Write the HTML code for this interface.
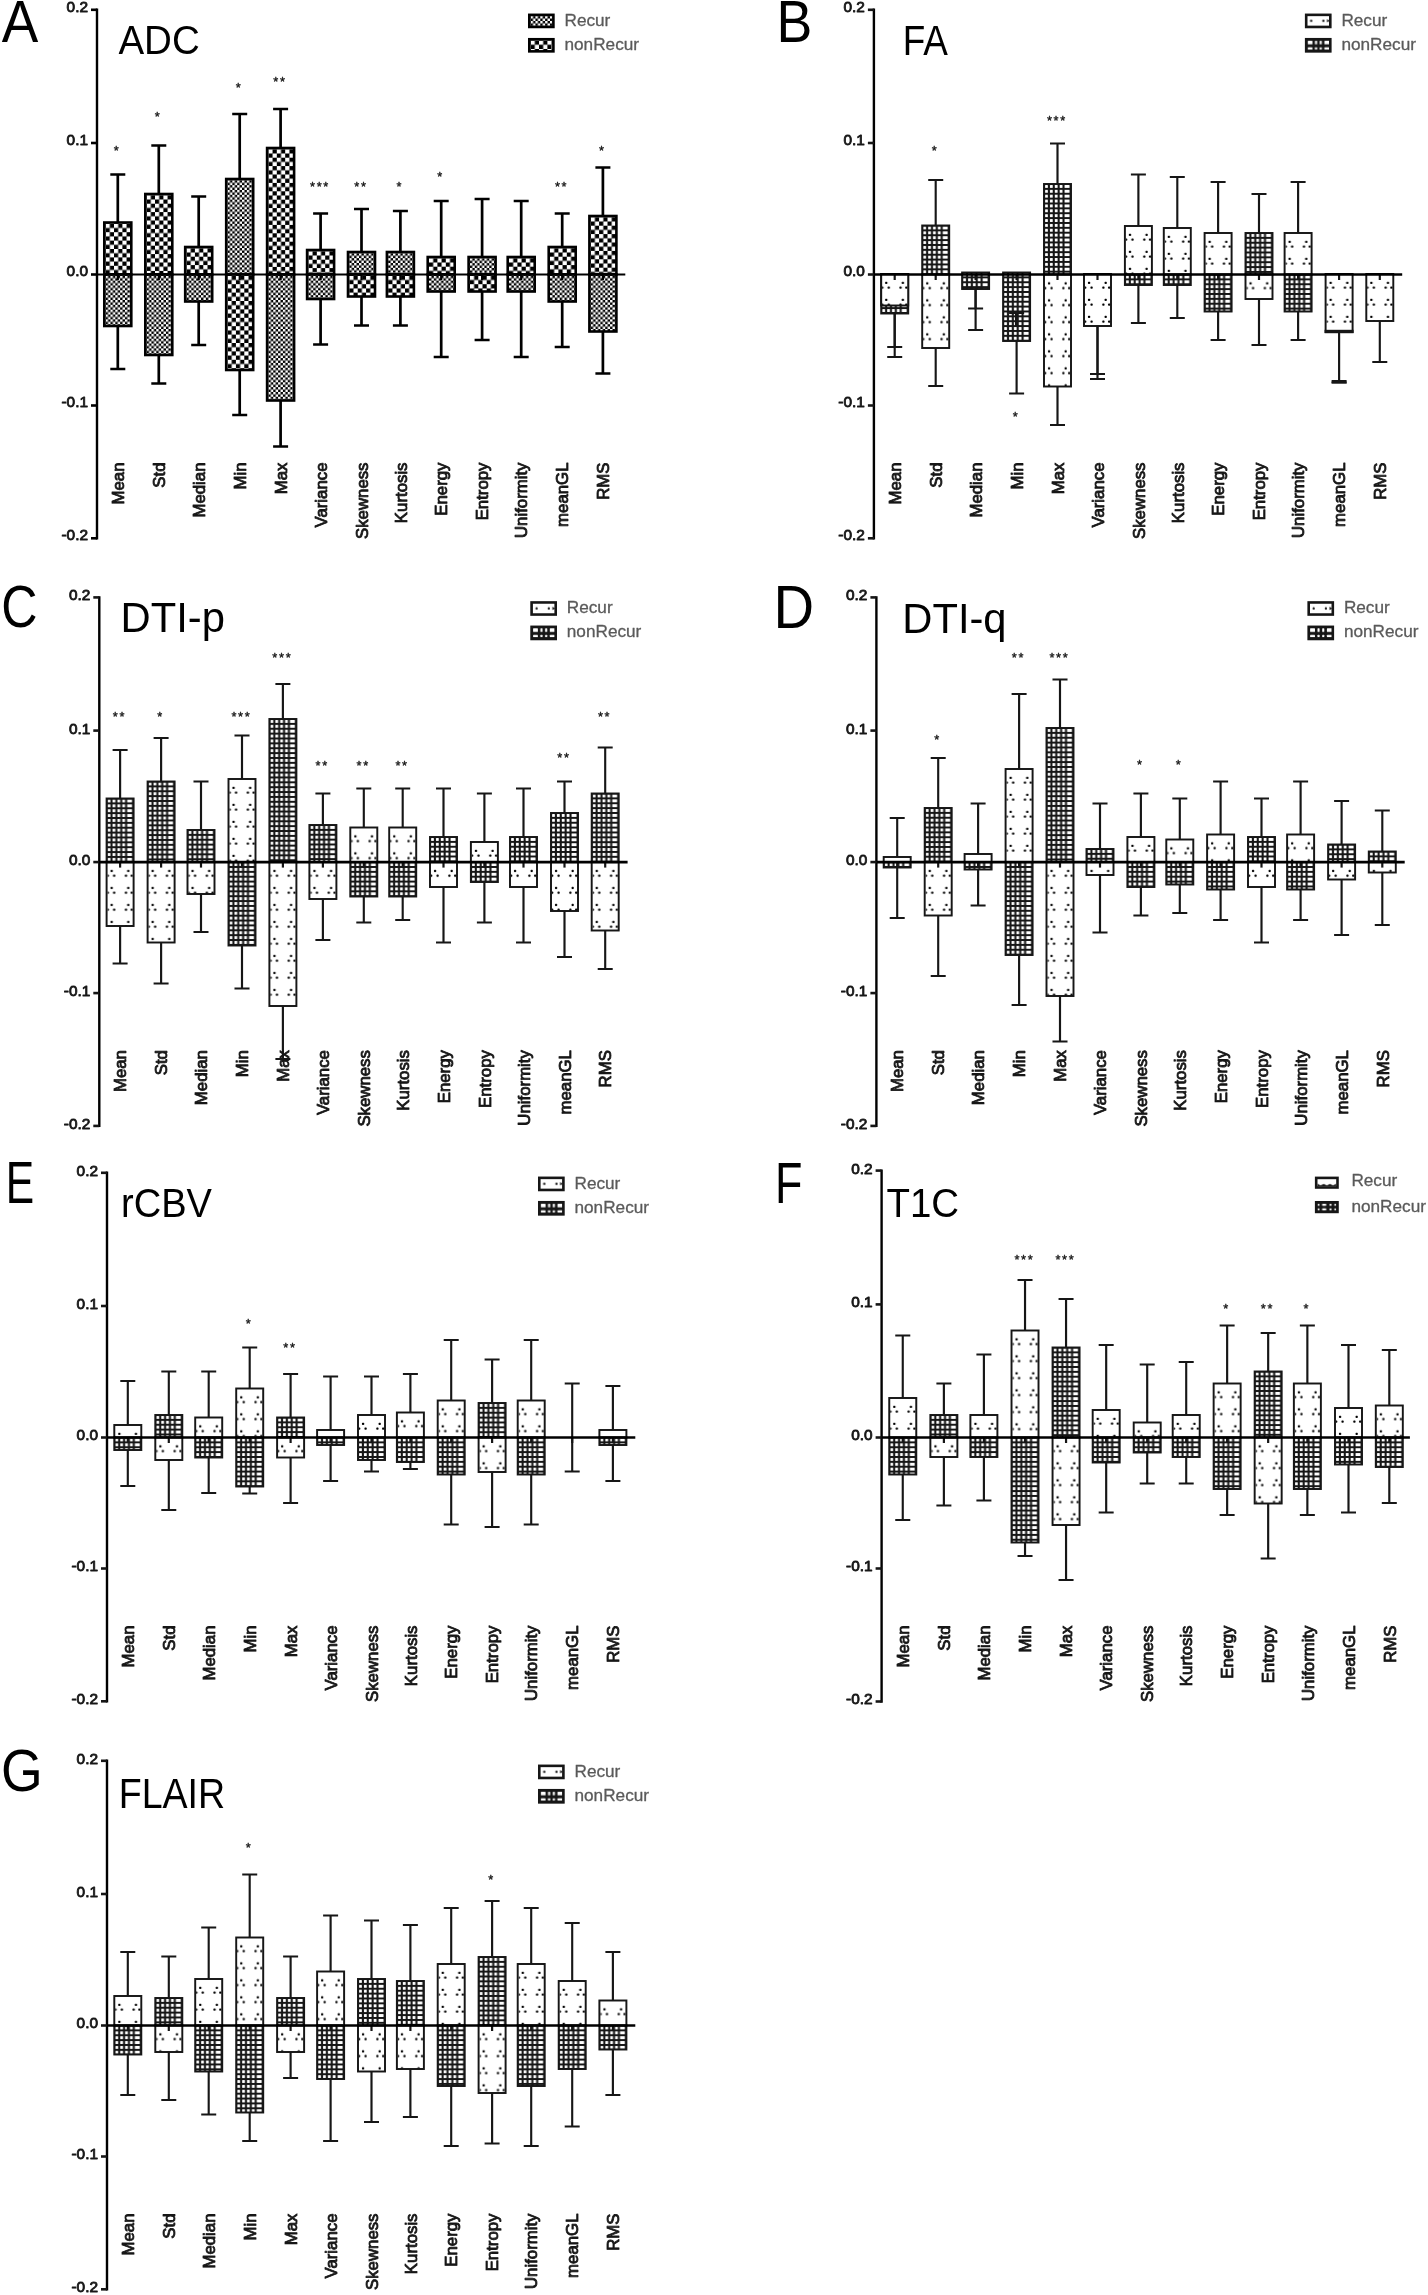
<!DOCTYPE html>
<html lang="en"><head><meta charset="utf-8"><title>Texture feature differences: Recur vs nonRecur</title>
<style>html,body{margin:0;padding:0;background:#fff}svg{display:block}.t{font-family:"Liberation Sans",sans-serif;font-size:16.8px;fill:#161616;stroke:#161616;stroke-width:0.85px;stroke-linejoin:round}.tk{font-size:15.4px}.st{font-size:12.8px;letter-spacing:1.7px;stroke-width:0.35px}.lg{fill:#5a5a5a;stroke:#5a5a5a;stroke-width:0.3px;font-size:17.2px}.h{font-family:"Liberation Sans",sans-serif;fill:#000}</style></head><body>
<svg width="1428" height="2295" viewBox="0 0 1428 2295">
<defs>
<pattern id="large" width="8.4" height="8.4" patternUnits="userSpaceOnUse"><rect width="8.4" height="8.4" fill="#000"/><rect x="0" y="0" width="4.2" height="4.2" fill="#fff"/><rect x="4.2" y="4.2" width="4.2" height="4.2" fill="#fff"/></pattern>
<pattern id="fine" width="4.84" height="4.84" patternUnits="userSpaceOnUse"><rect width="4.84" height="4.84" fill="#000"/><rect x="0" y="0" width="2.42" height="2.42" fill="#fff"/><rect x="2.42" y="2.42" width="2.42" height="2.42" fill="#fff"/></pattern>
<pattern id="grid" width="40" height="4.87" patternUnits="userSpaceOnUse"><rect width="40" height="4.87" fill="#161616"/><rect x="0.10" y="0.1" width="2.8" height="2.8" rx="0.5" fill="#fff"/><rect x="4.97" y="0.1" width="2.8" height="2.8" rx="0.5" fill="#fff"/><rect x="9.84" y="0.1" width="2.8" height="2.8" rx="0.5" fill="#fff"/><rect x="14.71" y="0.1" width="2.8" height="2.8" rx="0.5" fill="#fff"/><rect x="19.58" y="0.1" width="5" height="2.8" rx="0.5" fill="#fff"/></pattern>
<pattern id="dot" width="40" height="17" patternUnits="userSpaceOnUse"><rect width="40" height="17" fill="#fff"/><rect x="2.95" y="6.65" width="2.3" height="2.3" rx="0.8" fill="#000"/><rect x="19.55" y="6.65" width="2.3" height="2.3" rx="0.8" fill="#000"/><rect x="-0.95" y="11.45" width="2.3" height="2.3" rx="0.8" fill="#000"/><rect x="5.45" y="11.45" width="2.3" height="2.3" rx="0.8" fill="#000"/><rect x="17.25" y="11.45" width="2.3" height="2.3" rx="0.8" fill="#000"/><rect x="23.05" y="11.45" width="2.3" height="2.3" rx="0.8" fill="#000"/></pattern>
<pattern id="lgrid" width="60" height="30" patternUnits="userSpaceOnUse"><rect width="60" height="30" fill="#161616"/><rect x="0.1" y="0.1" width="4.9" height="3.7" rx="0.6" fill="#fff"/><rect x="0.1" y="6.7" width="4.9" height="2.3" rx="0.6" fill="#fff"/><rect x="7.5" y="0.1" width="2.1" height="3.7" rx="0.6" fill="#fff"/><rect x="7.5" y="6.7" width="2.1" height="2.3" rx="0.6" fill="#fff"/><rect x="12.2" y="0.1" width="2.1" height="3.7" rx="0.6" fill="#fff"/><rect x="12.2" y="6.7" width="2.1" height="2.3" rx="0.6" fill="#fff"/><rect x="16.9" y="0.1" width="5.6" height="3.7" rx="0.6" fill="#fff"/><rect x="16.9" y="6.7" width="5.6" height="2.3" rx="0.6" fill="#fff"/></pattern>
<pattern id="ldot" width="60" height="30" patternUnits="userSpaceOnUse"><rect width="60" height="30" fill="#fff"/><rect x="2.6" y="3.6" width="2.2" height="2.2" rx="0.9" fill="#161616"/><rect x="14.8" y="3.6" width="2.2" height="2.2" rx="0.9" fill="#161616"/><path d="M22.5 4.7l-3 -1.6v3.2z" fill="#161616"/></pattern>
<pattern id="lgridF" width="60" height="30" patternUnits="userSpaceOnUse"><rect width="60" height="30" fill="#161616"/><rect x="0.0" y="0.1" width="2.0" height="2.1" rx="0.7" fill="#fff"/><rect x="0.0" y="4.8" width="2.0" height="2.1" rx="0.7" fill="#fff"/><rect x="4.6" y="0.1" width="4.2" height="2.1" rx="0.7" fill="#fff"/><rect x="4.6" y="4.8" width="4.2" height="2.1" rx="0.7" fill="#fff"/><rect x="12.0" y="0.1" width="2.1" height="2.1" rx="0.7" fill="#fff"/><rect x="12.0" y="4.8" width="2.1" height="2.1" rx="0.7" fill="#fff"/><rect x="16.8" y="0.1" width="2.1" height="2.1" rx="0.7" fill="#fff"/><rect x="16.8" y="4.8" width="2.1" height="2.1" rx="0.7" fill="#fff"/></pattern>
<pattern id="ldotF" width="60" height="30" patternUnits="userSpaceOnUse"><rect width="60" height="30" fill="#fff"/><path d="M0 7.2V4.6l3 1.6l3.2-1.4l3.2 1.4l3-1.4l3.2 1.4l3.2-1.6V7.2z" fill="#161616"/></pattern>
<filter id="soft" x="-2%" y="-2%" width="104%" height="104%"><feGaussianBlur stdDeviation="0.45"/></filter>
</defs>
<rect width="1428" height="2295" fill="#fff"/>
<g id="panelA" filter="url(#soft)">
<path d="M117.8 222.5V174.5M110.3 174.5H125.3" stroke="#000" stroke-width="2.7" fill="none"/>
<path d="M117.8 326V369M110.3 369H125.3" stroke="#000" stroke-width="2.7" fill="none"/>
<g transform="translate(105.6 223.8)"><rect x="-1.3" y="-1.3" width="27" height="52" fill="url(#large)" stroke="#000" stroke-width="2.6"/></g>
<g transform="translate(105.6 275.8)"><rect x="-1.3" y="-1.3" width="27" height="51.5" fill="url(#fine)" stroke="#000" stroke-width="2.6"/></g>
<text x="117.2" y="154.5" text-anchor="middle" class="t st">*</text>
<path d="M117.8 274.5v5.5" stroke="#000" stroke-width="2.2"/>
<text transform="translate(124 462.5) rotate(-90)" text-anchor="end" class="t">Mean</text>
<path d="M158.8 194V145.5M151.3 145.5H166.3" stroke="#000" stroke-width="2.7" fill="none"/>
<path d="M158.8 355V383.5M151.3 383.5H166.3" stroke="#000" stroke-width="2.7" fill="none"/>
<g transform="translate(146.6 195.3)"><rect x="-1.3" y="-1.3" width="27" height="80.5" fill="url(#large)" stroke="#000" stroke-width="2.6"/></g>
<g transform="translate(146.6 275.8)"><rect x="-1.3" y="-1.3" width="27" height="80.5" fill="url(#fine)" stroke="#000" stroke-width="2.6"/></g>
<text x="158.2" y="121" text-anchor="middle" class="t st">*</text>
<path d="M158.8 274.5v5.5" stroke="#000" stroke-width="2.2"/>
<text transform="translate(165 462.5) rotate(-90)" text-anchor="end" class="t">Std</text>
<path d="M198.7 247V196.5M191.2 196.5H206.2" stroke="#000" stroke-width="2.7" fill="none"/>
<path d="M198.7 301.5V345M191.2 345H206.2" stroke="#000" stroke-width="2.7" fill="none"/>
<g transform="translate(186.5 248.3)"><rect x="-1.3" y="-1.3" width="27" height="27.5" fill="url(#large)" stroke="#000" stroke-width="2.6"/></g>
<g transform="translate(186.5 275.8)"><rect x="-1.3" y="-1.3" width="27" height="27" fill="url(#fine)" stroke="#000" stroke-width="2.6"/></g>
<path d="M198.7 274.5v5.5" stroke="#000" stroke-width="2.2"/>
<text transform="translate(204.9 462.5) rotate(-90)" text-anchor="end" class="t">Median</text>
<path d="M239.7 179V114M232.2 114H247.2" stroke="#000" stroke-width="2.7" fill="none"/>
<path d="M239.7 370V415M232.2 415H247.2" stroke="#000" stroke-width="2.7" fill="none"/>
<g transform="translate(227.5 180.3)"><rect x="-1.3" y="-1.3" width="27" height="95.5" fill="url(#fine)" stroke="#000" stroke-width="2.6"/></g>
<g transform="translate(227.5 275.8)"><rect x="-1.3" y="-1.3" width="27" height="95.5" fill="url(#large)" stroke="#000" stroke-width="2.6"/></g>
<text x="239.1" y="92" text-anchor="middle" class="t st">*</text>
<path d="M239.7 274.5v5.5" stroke="#000" stroke-width="2.2"/>
<text transform="translate(245.9 462.5) rotate(-90)" text-anchor="end" class="t">Min</text>
<path d="M280.6 148V109M273.1 109H288.1" stroke="#000" stroke-width="2.7" fill="none"/>
<path d="M280.6 400.5V446.5M273.1 446.5H288.1" stroke="#000" stroke-width="2.7" fill="none"/>
<g transform="translate(268.4 149.3)"><rect x="-1.3" y="-1.3" width="27" height="126.5" fill="url(#large)" stroke="#000" stroke-width="2.6"/></g>
<g transform="translate(268.4 275.8)"><rect x="-1.3" y="-1.3" width="27" height="126" fill="url(#fine)" stroke="#000" stroke-width="2.6"/></g>
<text x="280" y="86" text-anchor="middle" class="t st">**</text>
<path d="M280.6 274.5v5.5" stroke="#000" stroke-width="2.2"/>
<text transform="translate(286.8 462.5) rotate(-90)" text-anchor="end" class="t">Max</text>
<path d="M320.6 250V213.5M313.1 213.5H328.1" stroke="#000" stroke-width="2.7" fill="none"/>
<path d="M320.6 299V344.5M313.1 344.5H328.1" stroke="#000" stroke-width="2.7" fill="none"/>
<g transform="translate(308.4 251.3)"><rect x="-1.3" y="-1.3" width="27" height="24.5" fill="url(#large)" stroke="#000" stroke-width="2.6"/></g>
<g transform="translate(308.4 275.8)"><rect x="-1.3" y="-1.3" width="27" height="24.5" fill="url(#fine)" stroke="#000" stroke-width="2.6"/></g>
<text x="320" y="191" text-anchor="middle" class="t st">***</text>
<path d="M320.6 274.5v5.5" stroke="#000" stroke-width="2.2"/>
<text transform="translate(326.8 462.5) rotate(-90)" text-anchor="end" class="t">Variance</text>
<path d="M361.5 252V209M354 209H369" stroke="#000" stroke-width="2.7" fill="none"/>
<path d="M361.5 296.5V325.5M354 325.5H369" stroke="#000" stroke-width="2.7" fill="none"/>
<g transform="translate(349.3 253.3)"><rect x="-1.3" y="-1.3" width="27" height="22.5" fill="url(#fine)" stroke="#000" stroke-width="2.6"/></g>
<g transform="translate(349.3 275.8)"><rect x="-1.3" y="-1.3" width="27" height="22" fill="url(#large)" stroke="#000" stroke-width="2.6"/></g>
<text x="360.9" y="191" text-anchor="middle" class="t st">**</text>
<path d="M361.5 274.5v5.5" stroke="#000" stroke-width="2.2"/>
<text transform="translate(367.7 462.5) rotate(-90)" text-anchor="end" class="t">Skewness</text>
<path d="M400.4 252V211M392.9 211H407.9" stroke="#000" stroke-width="2.7" fill="none"/>
<path d="M400.4 296.5V325.5M392.9 325.5H407.9" stroke="#000" stroke-width="2.7" fill="none"/>
<g transform="translate(388.2 253.3)"><rect x="-1.3" y="-1.3" width="27" height="22.5" fill="url(#fine)" stroke="#000" stroke-width="2.6"/></g>
<g transform="translate(388.2 275.8)"><rect x="-1.3" y="-1.3" width="27" height="22" fill="url(#large)" stroke="#000" stroke-width="2.6"/></g>
<text x="399.8" y="191" text-anchor="middle" class="t st">*</text>
<path d="M400.4 274.5v5.5" stroke="#000" stroke-width="2.2"/>
<text transform="translate(406.6 462.5) rotate(-90)" text-anchor="end" class="t">Kurtosis</text>
<path d="M441.2 257V201M433.7 201H448.7" stroke="#000" stroke-width="2.7" fill="none"/>
<path d="M441.2 291.5V357M433.7 357H448.7" stroke="#000" stroke-width="2.7" fill="none"/>
<g transform="translate(429 258.3)"><rect x="-1.3" y="-1.3" width="27" height="17.5" fill="url(#large)" stroke="#000" stroke-width="2.6"/></g>
<g transform="translate(429 275.8)"><rect x="-1.3" y="-1.3" width="27" height="17" fill="url(#fine)" stroke="#000" stroke-width="2.6"/></g>
<text x="440.6" y="181" text-anchor="middle" class="t st">*</text>
<path d="M441.2 274.5v5.5" stroke="#000" stroke-width="2.2"/>
<text transform="translate(447.4 462.5) rotate(-90)" text-anchor="end" class="t">Energy</text>
<path d="M482.1 257V199M474.6 199H489.6" stroke="#000" stroke-width="2.7" fill="none"/>
<path d="M482.1 291.5V340M474.6 340H489.6" stroke="#000" stroke-width="2.7" fill="none"/>
<g transform="translate(469.9 258.3)"><rect x="-1.3" y="-1.3" width="27" height="17.5" fill="url(#fine)" stroke="#000" stroke-width="2.6"/></g>
<g transform="translate(469.9 275.8)"><rect x="-1.3" y="-1.3" width="27" height="17" fill="url(#large)" stroke="#000" stroke-width="2.6"/></g>
<path d="M482.1 274.5v5.5" stroke="#000" stroke-width="2.2"/>
<text transform="translate(488.3 462.5) rotate(-90)" text-anchor="end" class="t">Entropy</text>
<path d="M521.2 257V201M513.7 201H528.7" stroke="#000" stroke-width="2.7" fill="none"/>
<path d="M521.2 291.5V357M513.7 357H528.7" stroke="#000" stroke-width="2.7" fill="none"/>
<g transform="translate(509 258.3)"><rect x="-1.3" y="-1.3" width="27" height="17.5" fill="url(#large)" stroke="#000" stroke-width="2.6"/></g>
<g transform="translate(509 275.8)"><rect x="-1.3" y="-1.3" width="27" height="17" fill="url(#fine)" stroke="#000" stroke-width="2.6"/></g>
<path d="M521.2 274.5v5.5" stroke="#000" stroke-width="2.2"/>
<text transform="translate(527.4 462.5) rotate(-90)" text-anchor="end" class="t">Uniformity</text>
<path d="M562.2 247V213.5M554.7 213.5H569.7" stroke="#000" stroke-width="2.7" fill="none"/>
<path d="M562.2 301.5V347M554.7 347H569.7" stroke="#000" stroke-width="2.7" fill="none"/>
<g transform="translate(550 248.3)"><rect x="-1.3" y="-1.3" width="27" height="27.5" fill="url(#large)" stroke="#000" stroke-width="2.6"/></g>
<g transform="translate(550 275.8)"><rect x="-1.3" y="-1.3" width="27" height="27" fill="url(#fine)" stroke="#000" stroke-width="2.6"/></g>
<text x="561.6" y="191" text-anchor="middle" class="t st">**</text>
<path d="M562.2 274.5v5.5" stroke="#000" stroke-width="2.2"/>
<text transform="translate(568.4 462.5) rotate(-90)" text-anchor="end" class="t">meanGL</text>
<path d="M602.9 216V167.5M595.4 167.5H610.4" stroke="#000" stroke-width="2.7" fill="none"/>
<path d="M602.9 331.5V373.5M595.4 373.5H610.4" stroke="#000" stroke-width="2.7" fill="none"/>
<g transform="translate(590.7 217.3)"><rect x="-1.3" y="-1.3" width="27" height="58.5" fill="url(#large)" stroke="#000" stroke-width="2.6"/></g>
<g transform="translate(590.7 275.8)"><rect x="-1.3" y="-1.3" width="27" height="57" fill="url(#fine)" stroke="#000" stroke-width="2.6"/></g>
<text x="602.3" y="154.5" text-anchor="middle" class="t st">*</text>
<path d="M602.9 274.5v5.5" stroke="#000" stroke-width="2.2"/>
<text transform="translate(609.1 462.5) rotate(-90)" text-anchor="end" class="t">RMS</text>
<path d="M97 8.6V539.5" stroke="#000" stroke-width="2.4"/>
<path d="M97 274.5H625.3" stroke="#000" stroke-width="2.2"/>
<path d="M91 9.8H97" stroke="#000" stroke-width="2.6"/>
<text x="88" y="11.7" text-anchor="end" class="t tk">0.2</text>
<path d="M91 143H97" stroke="#000" stroke-width="2.6"/>
<text x="88" y="144.9" text-anchor="end" class="t tk">0.1</text>
<path d="M91 274.5H97" stroke="#000" stroke-width="2.6"/>
<text x="88" y="276.4" text-anchor="end" class="t tk">0.0</text>
<path d="M91 405.5H97" stroke="#000" stroke-width="2.6"/>
<text x="88" y="407.4" text-anchor="end" class="t tk">-0.1</text>
<path d="M91 538.3H97" stroke="#000" stroke-width="2.6"/>
<text x="88" y="540.2" text-anchor="end" class="t tk">-0.2</text>
<g transform="translate(530.6 16.15)"><rect x="-1.3" y="-1.3" width="24.1" height="12.1" fill="url(#fine)" stroke="#000" stroke-width="2.6"/></g>
<text x="564.5" y="25.65" class="t lg">Recur</text>
<g transform="translate(530.6 40.55)"><rect x="-1.3" y="-1.3" width="24.1" height="12.1" fill="url(#large)" stroke="#000" stroke-width="2.6"/></g>
<text x="564.5" y="49.85" class="t lg">nonRecur</text>
</g>
<text transform="translate(1.86 42) scale(1.3698 1.4800)" class="h" font-size="40">A</text>
<text transform="translate(118.4 54.2) scale(0.9626 1.0106)" class="h" font-size="40">ADC</text>
<g id="panelB" filter="url(#soft)">
<path d="M894.7 313.5V347M887.2 347H902.2" stroke="#161616" stroke-width="2.15" fill="none"/>
<path d="M894.7 313.5V357M887.2 357H902.2" stroke="#161616" stroke-width="2.15" fill="none"/>
<g transform="translate(882.17 274.98)"><rect x="-0.98" y="-0.98" width="27" height="39.5" fill="url(#grid)" stroke="#161616" stroke-width="1.95"/></g>
<g transform="translate(882.17 274.98)"><rect x="-0.98" y="-0.98" width="27" height="31.5" fill="url(#dot)" stroke="#161616" stroke-width="1.95"/></g>
<path d="M894.7 274.5v5.5" stroke="#161616" stroke-width="2.2"/>
<text transform="translate(900.9 462.5) rotate(-90)" text-anchor="end" class="t">Mean</text>
<path d="M935.7 225.5V180M928.2 180H943.2" stroke="#161616" stroke-width="2.15" fill="none"/>
<path d="M935.7 348V386M928.2 386H943.2" stroke="#161616" stroke-width="2.15" fill="none"/>
<g transform="translate(923.17 226.47)"><rect x="-0.98" y="-0.97" width="27" height="49" fill="url(#grid)" stroke="#161616" stroke-width="1.95"/></g>
<g transform="translate(923.17 275.48)"><rect x="-0.98" y="-0.98" width="27" height="73.5" fill="url(#dot)" stroke="#161616" stroke-width="1.95"/></g>
<text x="935.1" y="154.5" text-anchor="middle" class="t st">*</text>
<path d="M935.7 274.5v5.5" stroke="#161616" stroke-width="2.2"/>
<text transform="translate(941.9 462.5) rotate(-90)" text-anchor="end" class="t">Std</text>
<path d="M975.6 289V308.5M968.1 308.5H983.1" stroke="#161616" stroke-width="2.15" fill="none"/>
<path d="M975.6 289V330M968.1 330H983.1" stroke="#161616" stroke-width="2.15" fill="none"/>
<g transform="translate(963.08 273.48)"><rect x="-0.98" y="-0.98" width="27" height="16.5" fill="url(#grid)" stroke="#161616" stroke-width="1.95"/></g>
<path d="M975.6 274.5v5.5" stroke="#161616" stroke-width="2.2"/>
<text transform="translate(981.8 462.5) rotate(-90)" text-anchor="end" class="t">Median</text>
<path d="M1016.6 312.5V393.5M1009.1 393.5H1024.1" stroke="#161616" stroke-width="2.15" fill="none"/>
<g transform="translate(1004.07 273.48)"><rect x="-0.98" y="-0.98" width="27" height="68.5" fill="url(#grid)" stroke="#161616" stroke-width="1.95"/></g>
<path d="M1009.1 312.5H1024.1M1016.6 312.5V326.5" stroke="#161616" stroke-width="3.2"/>
<text x="1016" y="421" text-anchor="middle" class="t st">*</text>
<path d="M1016.6 274.5v5.5" stroke="#161616" stroke-width="2.2"/>
<text transform="translate(1022.8 462.5) rotate(-90)" text-anchor="end" class="t">Min</text>
<path d="M1057.5 184V143.5M1050 143.5H1065" stroke="#161616" stroke-width="2.15" fill="none"/>
<path d="M1057.5 386.5V425M1050 425H1065" stroke="#161616" stroke-width="2.15" fill="none"/>
<g transform="translate(1044.97 184.97)"><rect x="-0.97" y="-0.97" width="27" height="90.5" fill="url(#grid)" stroke="#161616" stroke-width="1.95"/></g>
<g transform="translate(1044.97 275.48)"><rect x="-0.97" y="-0.98" width="27" height="112" fill="url(#dot)" stroke="#161616" stroke-width="1.95"/></g>
<text x="1056.9" y="124.5" text-anchor="middle" class="t st">***</text>
<path d="M1057.5 274.5v5.5" stroke="#161616" stroke-width="2.2"/>
<text transform="translate(1063.7 462.5) rotate(-90)" text-anchor="end" class="t">Max</text>
<path d="M1097.5 326V374M1090 374H1105" stroke="#161616" stroke-width="2.15" fill="none"/>
<path d="M1097.5 326V379M1090 379H1105" stroke="#161616" stroke-width="2.15" fill="none"/>
<g transform="translate(1084.97 274.98)"><rect x="-0.97" y="-0.98" width="27" height="52" fill="url(#dot)" stroke="#161616" stroke-width="1.95"/></g>
<path d="M1097.5 274.5v5.5" stroke="#161616" stroke-width="2.2"/>
<text transform="translate(1103.7 462.5) rotate(-90)" text-anchor="end" class="t">Variance</text>
<path d="M1138.4 226V174.5M1130.9 174.5H1145.9" stroke="#161616" stroke-width="2.15" fill="none"/>
<path d="M1138.4 285V323M1130.9 323H1145.9" stroke="#161616" stroke-width="2.15" fill="none"/>
<g transform="translate(1125.88 226.97)"><rect x="-0.97" y="-0.97" width="27" height="48.5" fill="url(#dot)" stroke="#161616" stroke-width="1.95"/></g>
<g transform="translate(1125.88 275.48)"><rect x="-0.97" y="-0.98" width="27" height="10.5" fill="url(#grid)" stroke="#161616" stroke-width="1.95"/></g>
<path d="M1138.4 274.5v5.5" stroke="#161616" stroke-width="2.2"/>
<text transform="translate(1144.6 462.5) rotate(-90)" text-anchor="end" class="t">Skewness</text>
<path d="M1177.3 228V177M1169.8 177H1184.8" stroke="#161616" stroke-width="2.15" fill="none"/>
<path d="M1177.3 285V318M1169.8 318H1184.8" stroke="#161616" stroke-width="2.15" fill="none"/>
<g transform="translate(1164.77 228.97)"><rect x="-0.97" y="-0.97" width="27" height="46.5" fill="url(#dot)" stroke="#161616" stroke-width="1.95"/></g>
<g transform="translate(1164.77 275.48)"><rect x="-0.97" y="-0.98" width="27" height="10.5" fill="url(#grid)" stroke="#161616" stroke-width="1.95"/></g>
<path d="M1177.3 274.5v5.5" stroke="#161616" stroke-width="2.2"/>
<text transform="translate(1183.5 462.5) rotate(-90)" text-anchor="end" class="t">Kurtosis</text>
<path d="M1218.1 233V182M1210.6 182H1225.6" stroke="#161616" stroke-width="2.15" fill="none"/>
<path d="M1218.1 311.5V340M1210.6 340H1225.6" stroke="#161616" stroke-width="2.15" fill="none"/>
<g transform="translate(1205.57 233.97)"><rect x="-0.97" y="-0.97" width="27" height="41.5" fill="url(#dot)" stroke="#161616" stroke-width="1.95"/></g>
<g transform="translate(1205.57 275.48)"><rect x="-0.97" y="-0.98" width="27" height="37" fill="url(#grid)" stroke="#161616" stroke-width="1.95"/></g>
<path d="M1218.1 274.5v5.5" stroke="#161616" stroke-width="2.2"/>
<text transform="translate(1224.3 462.5) rotate(-90)" text-anchor="end" class="t">Energy</text>
<path d="M1259 233V194M1251.5 194H1266.5" stroke="#161616" stroke-width="2.15" fill="none"/>
<path d="M1259 299V345M1251.5 345H1266.5" stroke="#161616" stroke-width="2.15" fill="none"/>
<g transform="translate(1246.47 233.97)"><rect x="-0.97" y="-0.97" width="27" height="41.5" fill="url(#grid)" stroke="#161616" stroke-width="1.95"/></g>
<g transform="translate(1246.47 275.48)"><rect x="-0.97" y="-0.98" width="27" height="24.5" fill="url(#dot)" stroke="#161616" stroke-width="1.95"/></g>
<path d="M1259 274.5v5.5" stroke="#161616" stroke-width="2.2"/>
<text transform="translate(1265.2 462.5) rotate(-90)" text-anchor="end" class="t">Entropy</text>
<path d="M1298.1 233V182M1290.6 182H1305.6" stroke="#161616" stroke-width="2.15" fill="none"/>
<path d="M1298.1 311.5V340M1290.6 340H1305.6" stroke="#161616" stroke-width="2.15" fill="none"/>
<g transform="translate(1285.57 233.97)"><rect x="-0.97" y="-0.97" width="27" height="41.5" fill="url(#dot)" stroke="#161616" stroke-width="1.95"/></g>
<g transform="translate(1285.57 275.48)"><rect x="-0.97" y="-0.98" width="27" height="37" fill="url(#grid)" stroke="#161616" stroke-width="1.95"/></g>
<path d="M1298.1 274.5v5.5" stroke="#161616" stroke-width="2.2"/>
<text transform="translate(1304.3 462.5) rotate(-90)" text-anchor="end" class="t">Uniformity</text>
<path d="M1339.1 332V382.5M1331.6 382.5H1346.6" stroke="#161616" stroke-width="2.15" fill="none"/>
<path d="M1331.6 381.7H1346.6" stroke="#161616" stroke-width="3.4"/>
<g transform="translate(1326.57 274.98)"><rect x="-0.97" y="-0.98" width="27" height="58" fill="url(#dot)" stroke="#161616" stroke-width="1.95"/></g>
<rect x="1324.6" y="329.8" width="29" height="3.4" fill="#161616"/>
<path d="M1339.1 274.5v5.5" stroke="#161616" stroke-width="2.2"/>
<text transform="translate(1345.3 462.5) rotate(-90)" text-anchor="end" class="t">meanGL</text>
<path d="M1379.8 321V362M1372.3 362H1387.3" stroke="#161616" stroke-width="2.15" fill="none"/>
<g transform="translate(1367.27 274.98)"><rect x="-0.97" y="-0.98" width="27" height="47" fill="url(#dot)" stroke="#161616" stroke-width="1.95"/></g>
<path d="M1379.8 274.5v5.5" stroke="#161616" stroke-width="2.2"/>
<text transform="translate(1386 462.5) rotate(-90)" text-anchor="end" class="t">RMS</text>
<path d="M873.9 8.6V539.5" stroke="#000" stroke-width="2.4"/>
<path d="M873.9 274.5H1402.2" stroke="#000" stroke-width="2.6"/>
<path d="M867.9 9.8H873.9" stroke="#161616" stroke-width="2.6"/>
<text x="864.9" y="11.7" text-anchor="end" class="t tk">0.2</text>
<path d="M867.9 143H873.9" stroke="#161616" stroke-width="2.6"/>
<text x="864.9" y="144.9" text-anchor="end" class="t tk">0.1</text>
<path d="M867.9 274.5H873.9" stroke="#161616" stroke-width="2.6"/>
<text x="864.9" y="276.4" text-anchor="end" class="t tk">0.0</text>
<path d="M867.9 405.5H873.9" stroke="#161616" stroke-width="2.6"/>
<text x="864.9" y="407.4" text-anchor="end" class="t tk">-0.1</text>
<path d="M867.9 538.3H873.9" stroke="#161616" stroke-width="2.6"/>
<text x="864.9" y="540.2" text-anchor="end" class="t tk">-0.2</text>
<g transform="translate(1307.5 16.15)"><rect x="-1.3" y="-1.3" width="24.1" height="12.1" fill="url(#ldot)" stroke="#161616" stroke-width="2.6"/></g>
<text x="1341.4" y="25.65" class="t lg">Recur</text>
<g transform="translate(1307.5 40.55)"><rect x="-1.3" y="-1.3" width="24.1" height="12.1" fill="url(#lgrid)" stroke="#161616" stroke-width="2.6"/></g>
<text x="1341.4" y="49.85" class="t lg">nonRecur</text>
</g>
<text transform="translate(776.57 42.4) scale(1.3427 1.4945)" class="h" font-size="40">B</text>
<text transform="translate(902.85 54.6) scale(0.9231 1.0400)" class="h" font-size="40">FA</text>
<g id="panelC" filter="url(#soft)">
<path d="M120.1 798.5V750M112.6 750H127.6" stroke="#161616" stroke-width="2.15" fill="none"/>
<path d="M120.1 926V963.5M112.6 963.5H127.6" stroke="#161616" stroke-width="2.15" fill="none"/>
<g transform="translate(107.57 799.48)"><rect x="-0.97" y="-0.98" width="27" height="63.6" fill="url(#grid)" stroke="#161616" stroke-width="1.95"/></g>
<g transform="translate(107.57 863.08)"><rect x="-0.97" y="-0.98" width="27" height="63.9" fill="url(#dot)" stroke="#161616" stroke-width="1.95"/></g>
<text x="119.5" y="721" text-anchor="middle" class="t st">**</text>
<path d="M120.1 862.1v5.5" stroke="#161616" stroke-width="2.2"/>
<text transform="translate(126.3 1050.1) rotate(-90)" text-anchor="end" class="t">Mean</text>
<path d="M161.1 781.5V738M153.6 738H168.6" stroke="#161616" stroke-width="2.15" fill="none"/>
<path d="M161.1 942.5V983.5M153.6 983.5H168.6" stroke="#161616" stroke-width="2.15" fill="none"/>
<g transform="translate(148.57 782.48)"><rect x="-0.97" y="-0.98" width="27" height="80.6" fill="url(#grid)" stroke="#161616" stroke-width="1.95"/></g>
<g transform="translate(148.57 863.08)"><rect x="-0.97" y="-0.98" width="27" height="80.4" fill="url(#dot)" stroke="#161616" stroke-width="1.95"/></g>
<text x="160.5" y="721" text-anchor="middle" class="t st">*</text>
<path d="M161.1 862.1v5.5" stroke="#161616" stroke-width="2.2"/>
<text transform="translate(167.3 1050.1) rotate(-90)" text-anchor="end" class="t">Std</text>
<path d="M201 830V781.5M193.5 781.5H208.5" stroke="#161616" stroke-width="2.15" fill="none"/>
<path d="M201 894V932M193.5 932H208.5" stroke="#161616" stroke-width="2.15" fill="none"/>
<g transform="translate(188.47 830.98)"><rect x="-0.97" y="-0.98" width="27" height="32.1" fill="url(#grid)" stroke="#161616" stroke-width="1.95"/></g>
<g transform="translate(188.47 863.08)"><rect x="-0.97" y="-0.98" width="27" height="31.9" fill="url(#dot)" stroke="#161616" stroke-width="1.95"/></g>
<path d="M201 862.1v5.5" stroke="#161616" stroke-width="2.2"/>
<text transform="translate(207.2 1050.1) rotate(-90)" text-anchor="end" class="t">Median</text>
<path d="M242 779V735.5M234.5 735.5H249.5" stroke="#161616" stroke-width="2.15" fill="none"/>
<path d="M242 945.5V988.5M234.5 988.5H249.5" stroke="#161616" stroke-width="2.15" fill="none"/>
<g transform="translate(229.47 779.98)"><rect x="-0.97" y="-0.98" width="27" height="83.1" fill="url(#dot)" stroke="#161616" stroke-width="1.95"/></g>
<g transform="translate(229.47 863.08)"><rect x="-0.97" y="-0.98" width="27" height="83.4" fill="url(#grid)" stroke="#161616" stroke-width="1.95"/></g>
<text x="241.4" y="721" text-anchor="middle" class="t st">***</text>
<path d="M242 862.1v5.5" stroke="#161616" stroke-width="2.2"/>
<text transform="translate(248.2 1050.1) rotate(-90)" text-anchor="end" class="t">Min</text>
<path d="M282.9 719V684M275.4 684H290.4" stroke="#161616" stroke-width="2.15" fill="none"/>
<path d="M282.9 1006V1059M275.4 1059H290.4" stroke="#161616" stroke-width="2.15" fill="none"/>
<g transform="translate(270.38 719.98)"><rect x="-0.98" y="-0.98" width="27" height="143.1" fill="url(#grid)" stroke="#161616" stroke-width="1.95"/></g>
<g transform="translate(270.38 863.08)"><rect x="-0.98" y="-0.98" width="27" height="143.9" fill="url(#dot)" stroke="#161616" stroke-width="1.95"/></g>
<text x="282.3" y="662" text-anchor="middle" class="t st">***</text>
<path d="M282.9 862.1v5.5" stroke="#161616" stroke-width="2.2"/>
<text transform="translate(289.1 1050.1) rotate(-90)" text-anchor="end" class="t">Max</text>
<path d="M322.9 825V793.5M315.4 793.5H330.4" stroke="#161616" stroke-width="2.15" fill="none"/>
<path d="M322.9 899V940M315.4 940H330.4" stroke="#161616" stroke-width="2.15" fill="none"/>
<g transform="translate(310.38 825.98)"><rect x="-0.98" y="-0.98" width="27" height="37.1" fill="url(#grid)" stroke="#161616" stroke-width="1.95"/></g>
<g transform="translate(310.38 863.08)"><rect x="-0.98" y="-0.98" width="27" height="36.9" fill="url(#dot)" stroke="#161616" stroke-width="1.95"/></g>
<text x="322.3" y="770" text-anchor="middle" class="t st">**</text>
<path d="M322.9 862.1v5.5" stroke="#161616" stroke-width="2.2"/>
<text transform="translate(329.1 1050.1) rotate(-90)" text-anchor="end" class="t">Variance</text>
<path d="M363.8 827.5V788.5M356.3 788.5H371.3" stroke="#161616" stroke-width="2.15" fill="none"/>
<path d="M363.8 896.5V922.5M356.3 922.5H371.3" stroke="#161616" stroke-width="2.15" fill="none"/>
<g transform="translate(351.28 828.48)"><rect x="-0.98" y="-0.98" width="27" height="34.6" fill="url(#dot)" stroke="#161616" stroke-width="1.95"/></g>
<g transform="translate(351.28 863.08)"><rect x="-0.98" y="-0.98" width="27" height="34.4" fill="url(#grid)" stroke="#161616" stroke-width="1.95"/></g>
<text x="363.2" y="770" text-anchor="middle" class="t st">**</text>
<path d="M363.8 862.1v5.5" stroke="#161616" stroke-width="2.2"/>
<text transform="translate(370 1050.1) rotate(-90)" text-anchor="end" class="t">Skewness</text>
<path d="M402.7 827.5V788.5M395.2 788.5H410.2" stroke="#161616" stroke-width="2.15" fill="none"/>
<path d="M402.7 896.5V920M395.2 920H410.2" stroke="#161616" stroke-width="2.15" fill="none"/>
<g transform="translate(390.18 828.48)"><rect x="-0.98" y="-0.98" width="27" height="34.6" fill="url(#dot)" stroke="#161616" stroke-width="1.95"/></g>
<g transform="translate(390.18 863.08)"><rect x="-0.98" y="-0.98" width="27" height="34.4" fill="url(#grid)" stroke="#161616" stroke-width="1.95"/></g>
<text x="402.1" y="770" text-anchor="middle" class="t st">**</text>
<path d="M402.7 862.1v5.5" stroke="#161616" stroke-width="2.2"/>
<text transform="translate(408.9 1050.1) rotate(-90)" text-anchor="end" class="t">Kurtosis</text>
<path d="M443.5 837V788.5M436 788.5H451" stroke="#161616" stroke-width="2.15" fill="none"/>
<path d="M443.5 887V942.5M436 942.5H451" stroke="#161616" stroke-width="2.15" fill="none"/>
<g transform="translate(430.98 837.98)"><rect x="-0.98" y="-0.98" width="27" height="25.1" fill="url(#grid)" stroke="#161616" stroke-width="1.95"/></g>
<g transform="translate(430.98 863.08)"><rect x="-0.98" y="-0.98" width="27" height="24.9" fill="url(#dot)" stroke="#161616" stroke-width="1.95"/></g>
<path d="M443.5 862.1v5.5" stroke="#161616" stroke-width="2.2"/>
<text transform="translate(449.7 1050.1) rotate(-90)" text-anchor="end" class="t">Energy</text>
<path d="M484.4 842V793.5M476.9 793.5H491.9" stroke="#161616" stroke-width="2.15" fill="none"/>
<path d="M484.4 882V922.5M476.9 922.5H491.9" stroke="#161616" stroke-width="2.15" fill="none"/>
<g transform="translate(471.88 842.98)"><rect x="-0.98" y="-0.98" width="27" height="20.1" fill="url(#dot)" stroke="#161616" stroke-width="1.95"/></g>
<g transform="translate(471.88 863.08)"><rect x="-0.98" y="-0.98" width="27" height="19.9" fill="url(#grid)" stroke="#161616" stroke-width="1.95"/></g>
<path d="M484.4 862.1v5.5" stroke="#161616" stroke-width="2.2"/>
<text transform="translate(490.6 1050.1) rotate(-90)" text-anchor="end" class="t">Entropy</text>
<path d="M523.5 837V788.5M516 788.5H531" stroke="#161616" stroke-width="2.15" fill="none"/>
<path d="M523.5 887V942.5M516 942.5H531" stroke="#161616" stroke-width="2.15" fill="none"/>
<g transform="translate(510.98 837.98)"><rect x="-0.98" y="-0.98" width="27" height="25.1" fill="url(#grid)" stroke="#161616" stroke-width="1.95"/></g>
<g transform="translate(510.98 863.08)"><rect x="-0.98" y="-0.98" width="27" height="24.9" fill="url(#dot)" stroke="#161616" stroke-width="1.95"/></g>
<path d="M523.5 862.1v5.5" stroke="#161616" stroke-width="2.2"/>
<text transform="translate(529.7 1050.1) rotate(-90)" text-anchor="end" class="t">Uniformity</text>
<path d="M564.5 813V781.5M557 781.5H572" stroke="#161616" stroke-width="2.15" fill="none"/>
<path d="M564.5 911V957M557 957H572" stroke="#161616" stroke-width="2.15" fill="none"/>
<g transform="translate(551.98 813.98)"><rect x="-0.98" y="-0.98" width="27" height="49.1" fill="url(#grid)" stroke="#161616" stroke-width="1.95"/></g>
<g transform="translate(551.98 863.08)"><rect x="-0.98" y="-0.98" width="27" height="48.9" fill="url(#dot)" stroke="#161616" stroke-width="1.95"/></g>
<text x="563.9" y="762" text-anchor="middle" class="t st">**</text>
<path d="M564.5 862.1v5.5" stroke="#161616" stroke-width="2.2"/>
<text transform="translate(570.7 1050.1) rotate(-90)" text-anchor="end" class="t">meanGL</text>
<path d="M605.2 793.5V747.5M597.7 747.5H612.7" stroke="#161616" stroke-width="2.15" fill="none"/>
<path d="M605.2 930.5V969M597.7 969H612.7" stroke="#161616" stroke-width="2.15" fill="none"/>
<g transform="translate(592.67 794.48)"><rect x="-0.98" y="-0.98" width="27" height="68.6" fill="url(#grid)" stroke="#161616" stroke-width="1.95"/></g>
<g transform="translate(592.67 863.08)"><rect x="-0.98" y="-0.98" width="27" height="68.4" fill="url(#dot)" stroke="#161616" stroke-width="1.95"/></g>
<text x="604.6" y="721" text-anchor="middle" class="t st">**</text>
<path d="M605.2 862.1v5.5" stroke="#161616" stroke-width="2.2"/>
<text transform="translate(611.4 1050.1) rotate(-90)" text-anchor="end" class="t">RMS</text>
<path d="M99.3 596.2V1127.1" stroke="#000" stroke-width="2.4"/>
<path d="M99.3 862.1H627.6" stroke="#000" stroke-width="2.6"/>
<path d="M93.3 597.4H99.3" stroke="#161616" stroke-width="2.6"/>
<text x="90.3" y="600.3" text-anchor="end" class="t tk">0.2</text>
<path d="M93.3 730.6H99.3" stroke="#161616" stroke-width="2.6"/>
<text x="90.3" y="733.5" text-anchor="end" class="t tk">0.1</text>
<path d="M93.3 862.1H99.3" stroke="#161616" stroke-width="2.6"/>
<text x="90.3" y="865" text-anchor="end" class="t tk">0.0</text>
<path d="M93.3 993.1H99.3" stroke="#161616" stroke-width="2.6"/>
<text x="90.3" y="996" text-anchor="end" class="t tk">-0.1</text>
<path d="M93.3 1125.9H99.3" stroke="#161616" stroke-width="2.6"/>
<text x="90.3" y="1128.8" text-anchor="end" class="t tk">-0.2</text>
<g transform="translate(532.9 603.75)"><rect x="-1.3" y="-1.3" width="24.1" height="12.1" fill="url(#ldot)" stroke="#161616" stroke-width="2.6"/></g>
<text x="566.8" y="613.25" class="t lg">Recur</text>
<g transform="translate(532.9 628.15)"><rect x="-1.3" y="-1.3" width="24.1" height="12.1" fill="url(#lgrid)" stroke="#161616" stroke-width="2.6"/></g>
<text x="566.8" y="637.45" class="t lg">nonRecur</text>
</g>
<text transform="translate(1.19 627.31) scale(1.2559 1.4700)" class="h" font-size="40">C</text>
<text transform="translate(120.56 632.4) scale(1.0431 1.0400)" class="h" font-size="40">DTI-p</text>
<g id="panelD" filter="url(#soft)">
<path d="M897.2 857V818M889.7 818H904.7" stroke="#161616" stroke-width="2.15" fill="none"/>
<path d="M897.2 867.5V918M889.7 918H904.7" stroke="#161616" stroke-width="2.15" fill="none"/>
<g transform="translate(884.67 857.98)"><rect x="-0.98" y="-0.98" width="27" height="5.1" fill="url(#dot)" stroke="#161616" stroke-width="1.95"/></g>
<g transform="translate(884.67 863.08)"><rect x="-0.98" y="-0.98" width="27" height="5.4" fill="url(#grid)" stroke="#161616" stroke-width="1.95"/></g>
<path d="M897.2 862.1v5.5" stroke="#161616" stroke-width="2.2"/>
<text transform="translate(903.4 1050.1) rotate(-90)" text-anchor="end" class="t">Mean</text>
<path d="M938.2 808V758M930.7 758H945.7" stroke="#161616" stroke-width="2.15" fill="none"/>
<path d="M938.2 915.5V976M930.7 976H945.7" stroke="#161616" stroke-width="2.15" fill="none"/>
<g transform="translate(925.67 808.98)"><rect x="-0.98" y="-0.98" width="27" height="54.1" fill="url(#grid)" stroke="#161616" stroke-width="1.95"/></g>
<g transform="translate(925.67 863.08)"><rect x="-0.98" y="-0.98" width="27" height="53.4" fill="url(#dot)" stroke="#161616" stroke-width="1.95"/></g>
<text x="937.6" y="743.5" text-anchor="middle" class="t st">*</text>
<path d="M938.2 862.1v5.5" stroke="#161616" stroke-width="2.2"/>
<text transform="translate(944.4 1050.1) rotate(-90)" text-anchor="end" class="t">Std</text>
<path d="M978.1 854V803.5M970.6 803.5H985.6" stroke="#161616" stroke-width="2.15" fill="none"/>
<path d="M978.1 869.5V905.5M970.6 905.5H985.6" stroke="#161616" stroke-width="2.15" fill="none"/>
<g transform="translate(965.58 854.98)"><rect x="-0.98" y="-0.98" width="27" height="8.1" fill="url(#dot)" stroke="#161616" stroke-width="1.95"/></g>
<g transform="translate(965.58 863.08)"><rect x="-0.98" y="-0.98" width="27" height="7.4" fill="url(#grid)" stroke="#161616" stroke-width="1.95"/></g>
<path d="M978.1 862.1v5.5" stroke="#161616" stroke-width="2.2"/>
<text transform="translate(984.3 1050.1) rotate(-90)" text-anchor="end" class="t">Median</text>
<path d="M1019.1 769V694M1011.6 694H1026.6" stroke="#161616" stroke-width="2.15" fill="none"/>
<path d="M1019.1 955V1005M1011.6 1005H1026.6" stroke="#161616" stroke-width="2.15" fill="none"/>
<g transform="translate(1006.57 769.98)"><rect x="-0.98" y="-0.98" width="27" height="93.1" fill="url(#dot)" stroke="#161616" stroke-width="1.95"/></g>
<g transform="translate(1006.57 863.08)"><rect x="-0.98" y="-0.98" width="27" height="92.9" fill="url(#grid)" stroke="#161616" stroke-width="1.95"/></g>
<text x="1018.5" y="662" text-anchor="middle" class="t st">**</text>
<path d="M1019.1 862.1v5.5" stroke="#161616" stroke-width="2.2"/>
<text transform="translate(1025.3 1050.1) rotate(-90)" text-anchor="end" class="t">Min</text>
<path d="M1060 728V679.5M1052.5 679.5H1067.5" stroke="#161616" stroke-width="2.15" fill="none"/>
<path d="M1060 996V1041.5M1052.5 1041.5H1067.5" stroke="#161616" stroke-width="2.15" fill="none"/>
<g transform="translate(1047.47 728.98)"><rect x="-0.97" y="-0.98" width="27" height="134.1" fill="url(#grid)" stroke="#161616" stroke-width="1.95"/></g>
<g transform="translate(1047.47 863.08)"><rect x="-0.97" y="-0.98" width="27" height="133.9" fill="url(#dot)" stroke="#161616" stroke-width="1.95"/></g>
<text x="1059.4" y="662" text-anchor="middle" class="t st">***</text>
<path d="M1060 862.1v5.5" stroke="#161616" stroke-width="2.2"/>
<text transform="translate(1066.2 1050.1) rotate(-90)" text-anchor="end" class="t">Max</text>
<path d="M1100 849V803.5M1092.5 803.5H1107.5" stroke="#161616" stroke-width="2.15" fill="none"/>
<path d="M1100 875V932.5M1092.5 932.5H1107.5" stroke="#161616" stroke-width="2.15" fill="none"/>
<g transform="translate(1087.47 849.98)"><rect x="-0.97" y="-0.98" width="27" height="13.1" fill="url(#grid)" stroke="#161616" stroke-width="1.95"/></g>
<g transform="translate(1087.47 863.08)"><rect x="-0.97" y="-0.98" width="27" height="12.9" fill="url(#dot)" stroke="#161616" stroke-width="1.95"/></g>
<path d="M1100 862.1v5.5" stroke="#161616" stroke-width="2.2"/>
<text transform="translate(1106.2 1050.1) rotate(-90)" text-anchor="end" class="t">Variance</text>
<path d="M1140.9 837V793.5M1133.4 793.5H1148.4" stroke="#161616" stroke-width="2.15" fill="none"/>
<path d="M1140.9 887V915.5M1133.4 915.5H1148.4" stroke="#161616" stroke-width="2.15" fill="none"/>
<g transform="translate(1128.38 837.98)"><rect x="-0.97" y="-0.98" width="27" height="25.1" fill="url(#dot)" stroke="#161616" stroke-width="1.95"/></g>
<g transform="translate(1128.38 863.08)"><rect x="-0.97" y="-0.98" width="27" height="24.9" fill="url(#grid)" stroke="#161616" stroke-width="1.95"/></g>
<text x="1140.3" y="768.5" text-anchor="middle" class="t st">*</text>
<path d="M1140.9 862.1v5.5" stroke="#161616" stroke-width="2.2"/>
<text transform="translate(1147.1 1050.1) rotate(-90)" text-anchor="end" class="t">Skewness</text>
<path d="M1179.8 839.5V798.5M1172.3 798.5H1187.3" stroke="#161616" stroke-width="2.15" fill="none"/>
<path d="M1179.8 884.5V913M1172.3 913H1187.3" stroke="#161616" stroke-width="2.15" fill="none"/>
<g transform="translate(1167.27 840.48)"><rect x="-0.97" y="-0.98" width="27" height="22.6" fill="url(#dot)" stroke="#161616" stroke-width="1.95"/></g>
<g transform="translate(1167.27 863.08)"><rect x="-0.97" y="-0.98" width="27" height="22.4" fill="url(#grid)" stroke="#161616" stroke-width="1.95"/></g>
<text x="1179.2" y="768.5" text-anchor="middle" class="t st">*</text>
<path d="M1179.8 862.1v5.5" stroke="#161616" stroke-width="2.2"/>
<text transform="translate(1186 1050.1) rotate(-90)" text-anchor="end" class="t">Kurtosis</text>
<path d="M1220.6 834.5V781.5M1213.1 781.5H1228.1" stroke="#161616" stroke-width="2.15" fill="none"/>
<path d="M1220.6 889.5V920M1213.1 920H1228.1" stroke="#161616" stroke-width="2.15" fill="none"/>
<g transform="translate(1208.07 835.48)"><rect x="-0.97" y="-0.98" width="27" height="27.6" fill="url(#dot)" stroke="#161616" stroke-width="1.95"/></g>
<g transform="translate(1208.07 863.08)"><rect x="-0.97" y="-0.98" width="27" height="27.4" fill="url(#grid)" stroke="#161616" stroke-width="1.95"/></g>
<path d="M1220.6 862.1v5.5" stroke="#161616" stroke-width="2.2"/>
<text transform="translate(1226.8 1050.1) rotate(-90)" text-anchor="end" class="t">Energy</text>
<path d="M1261.5 837V798.5M1254 798.5H1269" stroke="#161616" stroke-width="2.15" fill="none"/>
<path d="M1261.5 887V942.5M1254 942.5H1269" stroke="#161616" stroke-width="2.15" fill="none"/>
<g transform="translate(1248.97 837.98)"><rect x="-0.97" y="-0.98" width="27" height="25.1" fill="url(#grid)" stroke="#161616" stroke-width="1.95"/></g>
<g transform="translate(1248.97 863.08)"><rect x="-0.97" y="-0.98" width="27" height="24.9" fill="url(#dot)" stroke="#161616" stroke-width="1.95"/></g>
<path d="M1261.5 862.1v5.5" stroke="#161616" stroke-width="2.2"/>
<text transform="translate(1267.7 1050.1) rotate(-90)" text-anchor="end" class="t">Entropy</text>
<path d="M1300.6 834.5V781.5M1293.1 781.5H1308.1" stroke="#161616" stroke-width="2.15" fill="none"/>
<path d="M1300.6 889.5V920M1293.1 920H1308.1" stroke="#161616" stroke-width="2.15" fill="none"/>
<g transform="translate(1288.07 835.48)"><rect x="-0.97" y="-0.98" width="27" height="27.6" fill="url(#dot)" stroke="#161616" stroke-width="1.95"/></g>
<g transform="translate(1288.07 863.08)"><rect x="-0.97" y="-0.98" width="27" height="27.4" fill="url(#grid)" stroke="#161616" stroke-width="1.95"/></g>
<path d="M1300.6 862.1v5.5" stroke="#161616" stroke-width="2.2"/>
<text transform="translate(1306.8 1050.1) rotate(-90)" text-anchor="end" class="t">Uniformity</text>
<path d="M1341.6 844.5V801M1334.1 801H1349.1" stroke="#161616" stroke-width="2.15" fill="none"/>
<path d="M1341.6 879.5V935M1334.1 935H1349.1" stroke="#161616" stroke-width="2.15" fill="none"/>
<g transform="translate(1329.07 845.48)"><rect x="-0.97" y="-0.98" width="27" height="17.6" fill="url(#grid)" stroke="#161616" stroke-width="1.95"/></g>
<g transform="translate(1329.07 863.08)"><rect x="-0.97" y="-0.98" width="27" height="17.4" fill="url(#dot)" stroke="#161616" stroke-width="1.95"/></g>
<path d="M1341.6 862.1v5.5" stroke="#161616" stroke-width="2.2"/>
<text transform="translate(1347.8 1050.1) rotate(-90)" text-anchor="end" class="t">meanGL</text>
<path d="M1382.3 851.5V810.5M1374.8 810.5H1389.8" stroke="#161616" stroke-width="2.15" fill="none"/>
<path d="M1382.3 872.5V925M1374.8 925H1389.8" stroke="#161616" stroke-width="2.15" fill="none"/>
<g transform="translate(1369.77 852.48)"><rect x="-0.97" y="-0.98" width="27" height="10.6" fill="url(#grid)" stroke="#161616" stroke-width="1.95"/></g>
<g transform="translate(1369.77 863.08)"><rect x="-0.97" y="-0.98" width="27" height="10.4" fill="url(#dot)" stroke="#161616" stroke-width="1.95"/></g>
<path d="M1382.3 862.1v5.5" stroke="#161616" stroke-width="2.2"/>
<text transform="translate(1388.5 1050.1) rotate(-90)" text-anchor="end" class="t">RMS</text>
<path d="M876.4 596.2V1127.1" stroke="#000" stroke-width="2.4"/>
<path d="M876.4 862.1H1404.7" stroke="#000" stroke-width="2.6"/>
<path d="M870.4 597.4H876.4" stroke="#161616" stroke-width="2.6"/>
<text x="867.4" y="600.3" text-anchor="end" class="t tk">0.2</text>
<path d="M870.4 730.6H876.4" stroke="#161616" stroke-width="2.6"/>
<text x="867.4" y="733.5" text-anchor="end" class="t tk">0.1</text>
<path d="M870.4 862.1H876.4" stroke="#161616" stroke-width="2.6"/>
<text x="867.4" y="865" text-anchor="end" class="t tk">0.0</text>
<path d="M870.4 993.1H876.4" stroke="#161616" stroke-width="2.6"/>
<text x="867.4" y="996" text-anchor="end" class="t tk">-0.1</text>
<path d="M870.4 1125.9H876.4" stroke="#161616" stroke-width="2.6"/>
<text x="867.4" y="1128.8" text-anchor="end" class="t tk">-0.2</text>
<g transform="translate(1310 603.75)"><rect x="-1.3" y="-1.3" width="24.1" height="12.1" fill="url(#ldot)" stroke="#161616" stroke-width="2.6"/></g>
<text x="1343.9" y="613.25" class="t lg">Recur</text>
<g transform="translate(1310 628.15)"><rect x="-1.3" y="-1.3" width="24.1" height="12.1" fill="url(#lgrid)" stroke="#161616" stroke-width="2.6"/></g>
<text x="1343.9" y="637.45" class="t lg">nonRecur</text>
</g>
<text transform="translate(773.56 628.4) scale(1.4051 1.5127)" class="h" font-size="40">D</text>
<text transform="translate(902.26 632.7) scale(1.0435 1.0727)" class="h" font-size="40">DTI-q</text>
<g id="panelE" filter="url(#soft)">
<path d="M127.8 1425V1381M120.3 1381H135.3" stroke="#161616" stroke-width="2.15" fill="none"/>
<path d="M127.8 1450V1486M120.3 1486H135.3" stroke="#161616" stroke-width="2.15" fill="none"/>
<g transform="translate(115.27 1425.97)"><rect x="-0.97" y="-0.97" width="27" height="12.5" fill="url(#dot)" stroke="#161616" stroke-width="1.95"/></g>
<g transform="translate(115.27 1438.47)"><rect x="-0.97" y="-0.97" width="27" height="12.5" fill="url(#grid)" stroke="#161616" stroke-width="1.95"/></g>
<path d="M127.8 1437.5v5.5" stroke="#161616" stroke-width="2.2"/>
<text transform="translate(134 1625.5) rotate(-90)" text-anchor="end" class="t">Mean</text>
<path d="M168.8 1415V1371.5M161.3 1371.5H176.3" stroke="#161616" stroke-width="2.15" fill="none"/>
<path d="M168.8 1460V1510M161.3 1510H176.3" stroke="#161616" stroke-width="2.15" fill="none"/>
<g transform="translate(156.28 1415.97)"><rect x="-0.97" y="-0.97" width="27" height="22.5" fill="url(#grid)" stroke="#161616" stroke-width="1.95"/></g>
<g transform="translate(156.28 1438.47)"><rect x="-0.97" y="-0.97" width="27" height="22.5" fill="url(#dot)" stroke="#161616" stroke-width="1.95"/></g>
<path d="M168.8 1437.5v5.5" stroke="#161616" stroke-width="2.2"/>
<text transform="translate(175 1625.5) rotate(-90)" text-anchor="end" class="t">Std</text>
<path d="M208.7 1417.5V1371.5M201.2 1371.5H216.2" stroke="#161616" stroke-width="2.15" fill="none"/>
<path d="M208.7 1457.5V1493M201.2 1493H216.2" stroke="#161616" stroke-width="2.15" fill="none"/>
<g transform="translate(196.17 1418.47)"><rect x="-0.97" y="-0.97" width="27" height="20" fill="url(#dot)" stroke="#161616" stroke-width="1.95"/></g>
<g transform="translate(196.17 1438.47)"><rect x="-0.97" y="-0.97" width="27" height="20" fill="url(#grid)" stroke="#161616" stroke-width="1.95"/></g>
<path d="M208.7 1437.5v5.5" stroke="#161616" stroke-width="2.2"/>
<text transform="translate(214.9 1625.5) rotate(-90)" text-anchor="end" class="t">Median</text>
<path d="M249.7 1388.5V1347.5M242.2 1347.5H257.2" stroke="#161616" stroke-width="2.15" fill="none"/>
<path d="M249.7 1486.5V1493.5M242.2 1493.5H257.2" stroke="#161616" stroke-width="2.15" fill="none"/>
<g transform="translate(237.17 1389.47)"><rect x="-0.97" y="-0.97" width="27" height="49" fill="url(#dot)" stroke="#161616" stroke-width="1.95"/></g>
<g transform="translate(237.17 1438.47)"><rect x="-0.97" y="-0.97" width="27" height="49" fill="url(#grid)" stroke="#161616" stroke-width="1.95"/></g>
<text x="249.1" y="1327.5" text-anchor="middle" class="t st">*</text>
<path d="M249.7 1437.5v5.5" stroke="#161616" stroke-width="2.2"/>
<text transform="translate(255.9 1625.5) rotate(-90)" text-anchor="end" class="t">Min</text>
<path d="M290.6 1417.5V1374M283.1 1374H298.1" stroke="#161616" stroke-width="2.15" fill="none"/>
<path d="M290.6 1457.5V1503M283.1 1503H298.1" stroke="#161616" stroke-width="2.15" fill="none"/>
<g transform="translate(278.08 1418.47)"><rect x="-0.98" y="-0.97" width="27" height="20" fill="url(#grid)" stroke="#161616" stroke-width="1.95"/></g>
<g transform="translate(278.08 1438.47)"><rect x="-0.98" y="-0.97" width="27" height="20" fill="url(#dot)" stroke="#161616" stroke-width="1.95"/></g>
<text x="290" y="1351.5" text-anchor="middle" class="t st">**</text>
<path d="M290.6 1437.5v5.5" stroke="#161616" stroke-width="2.2"/>
<text transform="translate(296.8 1625.5) rotate(-90)" text-anchor="end" class="t">Max</text>
<path d="M330.6 1430V1376.5M323.1 1376.5H338.1" stroke="#161616" stroke-width="2.15" fill="none"/>
<path d="M330.6 1445V1481M323.1 1481H338.1" stroke="#161616" stroke-width="2.15" fill="none"/>
<g transform="translate(318.08 1430.97)"><rect x="-0.98" y="-0.97" width="27" height="7.5" fill="url(#dot)" stroke="#161616" stroke-width="1.95"/></g>
<g transform="translate(318.08 1438.47)"><rect x="-0.98" y="-0.97" width="27" height="7.5" fill="url(#grid)" stroke="#161616" stroke-width="1.95"/></g>
<path d="M330.6 1437.5v5.5" stroke="#161616" stroke-width="2.2"/>
<text transform="translate(336.8 1625.5) rotate(-90)" text-anchor="end" class="t">Variance</text>
<path d="M371.5 1415V1376.5M364 1376.5H379" stroke="#161616" stroke-width="2.15" fill="none"/>
<path d="M371.5 1460V1471.5M364 1471.5H379" stroke="#161616" stroke-width="2.15" fill="none"/>
<g transform="translate(358.98 1415.97)"><rect x="-0.98" y="-0.97" width="27" height="22.5" fill="url(#dot)" stroke="#161616" stroke-width="1.95"/></g>
<g transform="translate(358.98 1438.47)"><rect x="-0.98" y="-0.97" width="27" height="22.5" fill="url(#grid)" stroke="#161616" stroke-width="1.95"/></g>
<path d="M371.5 1437.5v5.5" stroke="#161616" stroke-width="2.2"/>
<text transform="translate(377.7 1625.5) rotate(-90)" text-anchor="end" class="t">Skewness</text>
<path d="M410.4 1412.5V1374M402.9 1374H417.9" stroke="#161616" stroke-width="2.15" fill="none"/>
<path d="M410.4 1462V1469M402.9 1469H417.9" stroke="#161616" stroke-width="2.15" fill="none"/>
<g transform="translate(397.88 1413.47)"><rect x="-0.98" y="-0.97" width="27" height="25" fill="url(#dot)" stroke="#161616" stroke-width="1.95"/></g>
<g transform="translate(397.88 1438.47)"><rect x="-0.98" y="-0.97" width="27" height="24.5" fill="url(#grid)" stroke="#161616" stroke-width="1.95"/></g>
<path d="M410.4 1437.5v5.5" stroke="#161616" stroke-width="2.2"/>
<text transform="translate(416.6 1625.5) rotate(-90)" text-anchor="end" class="t">Kurtosis</text>
<path d="M451.2 1400.5V1340M443.7 1340H458.7" stroke="#161616" stroke-width="2.15" fill="none"/>
<path d="M451.2 1474.5V1524.5M443.7 1524.5H458.7" stroke="#161616" stroke-width="2.15" fill="none"/>
<g transform="translate(438.68 1401.47)"><rect x="-0.98" y="-0.97" width="27" height="37" fill="url(#dot)" stroke="#161616" stroke-width="1.95"/></g>
<g transform="translate(438.68 1438.47)"><rect x="-0.98" y="-0.97" width="27" height="37" fill="url(#grid)" stroke="#161616" stroke-width="1.95"/></g>
<path d="M451.2 1437.5v5.5" stroke="#161616" stroke-width="2.2"/>
<text transform="translate(457.4 1625.5) rotate(-90)" text-anchor="end" class="t">Energy</text>
<path d="M492.1 1403V1359.5M484.6 1359.5H499.6" stroke="#161616" stroke-width="2.15" fill="none"/>
<path d="M492.1 1472V1527M484.6 1527H499.6" stroke="#161616" stroke-width="2.15" fill="none"/>
<g transform="translate(479.58 1403.97)"><rect x="-0.98" y="-0.97" width="27" height="34.5" fill="url(#grid)" stroke="#161616" stroke-width="1.95"/></g>
<g transform="translate(479.58 1438.47)"><rect x="-0.98" y="-0.97" width="27" height="34.5" fill="url(#dot)" stroke="#161616" stroke-width="1.95"/></g>
<path d="M492.1 1437.5v5.5" stroke="#161616" stroke-width="2.2"/>
<text transform="translate(498.3 1625.5) rotate(-90)" text-anchor="end" class="t">Entropy</text>
<path d="M531.2 1400.5V1340M523.7 1340H538.7" stroke="#161616" stroke-width="2.15" fill="none"/>
<path d="M531.2 1474.5V1524.5M523.7 1524.5H538.7" stroke="#161616" stroke-width="2.15" fill="none"/>
<g transform="translate(518.68 1401.47)"><rect x="-0.98" y="-0.97" width="27" height="37" fill="url(#dot)" stroke="#161616" stroke-width="1.95"/></g>
<g transform="translate(518.68 1438.47)"><rect x="-0.98" y="-0.97" width="27" height="37" fill="url(#grid)" stroke="#161616" stroke-width="1.95"/></g>
<path d="M531.2 1437.5v5.5" stroke="#161616" stroke-width="2.2"/>
<text transform="translate(537.4 1625.5) rotate(-90)" text-anchor="end" class="t">Uniformity</text>
<path d="M572.2 1437.5V1383.5M564.7 1383.5H579.7" stroke="#161616" stroke-width="2.15" fill="none"/>
<path d="M572.2 1437.5V1471.5M564.7 1471.5H579.7" stroke="#161616" stroke-width="2.15" fill="none"/>
<path d="M572.2 1437.5v5.5" stroke="#161616" stroke-width="2.2"/>
<text transform="translate(578.4 1625.5) rotate(-90)" text-anchor="end" class="t">meanGL</text>
<path d="M612.9 1430V1386M605.4 1386H620.4" stroke="#161616" stroke-width="2.15" fill="none"/>
<path d="M612.9 1445V1481M605.4 1481H620.4" stroke="#161616" stroke-width="2.15" fill="none"/>
<g transform="translate(600.38 1430.97)"><rect x="-0.98" y="-0.97" width="27" height="7.5" fill="url(#dot)" stroke="#161616" stroke-width="1.95"/></g>
<g transform="translate(600.38 1438.47)"><rect x="-0.98" y="-0.97" width="27" height="7.5" fill="url(#grid)" stroke="#161616" stroke-width="1.95"/></g>
<path d="M612.9 1437.5v5.5" stroke="#161616" stroke-width="2.2"/>
<text transform="translate(619.1 1625.5) rotate(-90)" text-anchor="end" class="t">RMS</text>
<path d="M107 1171.6V1702.5" stroke="#000" stroke-width="2.4"/>
<path d="M107 1437.5H635.3" stroke="#000" stroke-width="2.6"/>
<path d="M101 1172.8H107" stroke="#161616" stroke-width="2.6"/>
<text x="98" y="1175.7" text-anchor="end" class="t tk">0.2</text>
<path d="M101 1306H107" stroke="#161616" stroke-width="2.6"/>
<text x="98" y="1308.9" text-anchor="end" class="t tk">0.1</text>
<path d="M101 1437.5H107" stroke="#161616" stroke-width="2.6"/>
<text x="98" y="1440.4" text-anchor="end" class="t tk">0.0</text>
<path d="M101 1568.5H107" stroke="#161616" stroke-width="2.6"/>
<text x="98" y="1571.4" text-anchor="end" class="t tk">-0.1</text>
<path d="M101 1701.3H107" stroke="#161616" stroke-width="2.6"/>
<text x="98" y="1704.2" text-anchor="end" class="t tk">-0.2</text>
<g transform="translate(540.6 1179.15)"><rect x="-1.3" y="-1.3" width="24.1" height="12.1" fill="url(#ldot)" stroke="#161616" stroke-width="2.6"/></g>
<text x="574.5" y="1188.65" class="t lg">Recur</text>
<g transform="translate(540.6 1203.55)"><rect x="-1.3" y="-1.3" width="24.1" height="12.1" fill="url(#lgrid)" stroke="#161616" stroke-width="2.6"/></g>
<text x="574.5" y="1212.85" class="t lg">nonRecur</text>
</g>
<text transform="translate(5.69 1203.4) scale(1.0645 1.4873)" class="h" font-size="40">E</text>
<text transform="translate(121.03 1216.99) scale(0.9515 1.0177)" class="h" font-size="40">rCBV</text>
<g id="panelF" filter="url(#soft)">
<path d="M902.76 1398V1335.5M895.26 1335.5H910.26" stroke="#161616" stroke-width="2.15" fill="none"/>
<path d="M902.76 1474.5V1520M895.26 1520H910.26" stroke="#161616" stroke-width="2.15" fill="none"/>
<g transform="translate(890.24 1398.97)"><rect x="-0.98" y="-0.97" width="27" height="39.5" fill="url(#dot)" stroke="#161616" stroke-width="1.95"/></g>
<g transform="translate(890.24 1438.47)"><rect x="-0.98" y="-0.97" width="27" height="37" fill="url(#grid)" stroke="#161616" stroke-width="1.95"/></g>
<path d="M902.76 1437.5v5.5" stroke="#161616" stroke-width="2.2"/>
<text transform="translate(908.96 1625.5) rotate(-90)" text-anchor="end" class="t">Mean</text>
<path d="M943.89 1415V1383.5M936.39 1383.5H951.39" stroke="#161616" stroke-width="2.15" fill="none"/>
<path d="M943.89 1457V1505.5M936.39 1505.5H951.39" stroke="#161616" stroke-width="2.15" fill="none"/>
<g transform="translate(931.36 1415.97)"><rect x="-0.98" y="-0.97" width="27" height="22.5" fill="url(#grid)" stroke="#161616" stroke-width="1.95"/></g>
<g transform="translate(931.36 1438.47)"><rect x="-0.98" y="-0.97" width="27" height="19.5" fill="url(#dot)" stroke="#161616" stroke-width="1.95"/></g>
<path d="M943.89 1437.5v5.5" stroke="#161616" stroke-width="2.2"/>
<text transform="translate(950.09 1625.5) rotate(-90)" text-anchor="end" class="t">Std</text>
<path d="M983.91 1415V1354.5M976.41 1354.5H991.41" stroke="#161616" stroke-width="2.15" fill="none"/>
<path d="M983.91 1457V1500.5M976.41 1500.5H991.41" stroke="#161616" stroke-width="2.15" fill="none"/>
<g transform="translate(971.38 1415.97)"><rect x="-0.98" y="-0.97" width="27" height="22.5" fill="url(#dot)" stroke="#161616" stroke-width="1.95"/></g>
<g transform="translate(971.38 1438.47)"><rect x="-0.98" y="-0.97" width="27" height="19.5" fill="url(#grid)" stroke="#161616" stroke-width="1.95"/></g>
<path d="M983.91 1437.5v5.5" stroke="#161616" stroke-width="2.2"/>
<text transform="translate(990.11 1625.5) rotate(-90)" text-anchor="end" class="t">Median</text>
<path d="M1025.03 1330.5V1280M1017.53 1280H1032.53" stroke="#161616" stroke-width="2.15" fill="none"/>
<path d="M1025.03 1542.5V1556M1017.53 1556H1032.53" stroke="#161616" stroke-width="2.15" fill="none"/>
<g transform="translate(1012.5 1331.47)"><rect x="-0.98" y="-0.97" width="27" height="107" fill="url(#dot)" stroke="#161616" stroke-width="1.95"/></g>
<g transform="translate(1012.5 1438.47)"><rect x="-0.98" y="-0.97" width="27" height="105" fill="url(#grid)" stroke="#161616" stroke-width="1.95"/></g>
<text x="1024.43" y="1263.5" text-anchor="middle" class="t st">***</text>
<path d="M1025.03 1437.5v5.5" stroke="#161616" stroke-width="2.2"/>
<text transform="translate(1031.23 1625.5) rotate(-90)" text-anchor="end" class="t">Min</text>
<path d="M1066.05 1347.5V1299M1058.55 1299H1073.55" stroke="#161616" stroke-width="2.15" fill="none"/>
<path d="M1066.05 1525V1580M1058.55 1580H1073.55" stroke="#161616" stroke-width="2.15" fill="none"/>
<g transform="translate(1053.53 1348.47)"><rect x="-0.97" y="-0.97" width="27" height="90" fill="url(#grid)" stroke="#161616" stroke-width="1.95"/></g>
<g transform="translate(1053.53 1438.47)"><rect x="-0.97" y="-0.97" width="27" height="87.5" fill="url(#dot)" stroke="#161616" stroke-width="1.95"/></g>
<text x="1065.45" y="1263.5" text-anchor="middle" class="t st">***</text>
<path d="M1066.05 1437.5v5.5" stroke="#161616" stroke-width="2.2"/>
<text transform="translate(1072.25 1625.5) rotate(-90)" text-anchor="end" class="t">Max</text>
<path d="M1106.17 1410V1345M1098.67 1345H1113.67" stroke="#161616" stroke-width="2.15" fill="none"/>
<path d="M1106.17 1462.5V1512.5M1098.67 1512.5H1113.67" stroke="#161616" stroke-width="2.15" fill="none"/>
<g transform="translate(1093.65 1410.97)"><rect x="-0.97" y="-0.97" width="27" height="27.5" fill="url(#dot)" stroke="#161616" stroke-width="1.95"/></g>
<g transform="translate(1093.65 1438.47)"><rect x="-0.97" y="-0.97" width="27" height="25" fill="url(#grid)" stroke="#161616" stroke-width="1.95"/></g>
<path d="M1106.17 1437.5v5.5" stroke="#161616" stroke-width="2.2"/>
<text transform="translate(1112.37 1625.5) rotate(-90)" text-anchor="end" class="t">Variance</text>
<path d="M1147.19 1422.5V1364.5M1139.69 1364.5H1154.69" stroke="#161616" stroke-width="2.15" fill="none"/>
<path d="M1147.19 1452.5V1483.5M1139.69 1483.5H1154.69" stroke="#161616" stroke-width="2.15" fill="none"/>
<g transform="translate(1134.67 1423.47)"><rect x="-0.97" y="-0.97" width="27" height="15" fill="url(#dot)" stroke="#161616" stroke-width="1.95"/></g>
<g transform="translate(1134.67 1438.47)"><rect x="-0.97" y="-0.97" width="27" height="15" fill="url(#grid)" stroke="#161616" stroke-width="1.95"/></g>
<path d="M1147.19 1437.5v5.5" stroke="#161616" stroke-width="2.2"/>
<text transform="translate(1153.39 1625.5) rotate(-90)" text-anchor="end" class="t">Skewness</text>
<path d="M1186.21 1415V1362M1178.71 1362H1193.71" stroke="#161616" stroke-width="2.15" fill="none"/>
<path d="M1186.21 1457V1483.5M1178.71 1483.5H1193.71" stroke="#161616" stroke-width="2.15" fill="none"/>
<g transform="translate(1173.69 1415.97)"><rect x="-0.97" y="-0.97" width="27" height="22.5" fill="url(#dot)" stroke="#161616" stroke-width="1.95"/></g>
<g transform="translate(1173.69 1438.47)"><rect x="-0.97" y="-0.97" width="27" height="19.5" fill="url(#grid)" stroke="#161616" stroke-width="1.95"/></g>
<path d="M1186.21 1437.5v5.5" stroke="#161616" stroke-width="2.2"/>
<text transform="translate(1192.41 1625.5) rotate(-90)" text-anchor="end" class="t">Kurtosis</text>
<path d="M1227.13 1383.5V1325.5M1219.63 1325.5H1234.63" stroke="#161616" stroke-width="2.15" fill="none"/>
<path d="M1227.13 1489V1515M1219.63 1515H1234.63" stroke="#161616" stroke-width="2.15" fill="none"/>
<g transform="translate(1214.61 1384.47)"><rect x="-0.97" y="-0.97" width="27" height="54" fill="url(#dot)" stroke="#161616" stroke-width="1.95"/></g>
<g transform="translate(1214.61 1438.47)"><rect x="-0.97" y="-0.97" width="27" height="51.5" fill="url(#grid)" stroke="#161616" stroke-width="1.95"/></g>
<text x="1226.53" y="1312.5" text-anchor="middle" class="t st">*</text>
<path d="M1227.13 1437.5v5.5" stroke="#161616" stroke-width="2.2"/>
<text transform="translate(1233.33 1625.5) rotate(-90)" text-anchor="end" class="t">Energy</text>
<path d="M1268.16 1371.5V1333M1260.66 1333H1275.66" stroke="#161616" stroke-width="2.15" fill="none"/>
<path d="M1268.16 1503.5V1558.5M1260.66 1558.5H1275.66" stroke="#161616" stroke-width="2.15" fill="none"/>
<g transform="translate(1255.63 1372.47)"><rect x="-0.97" y="-0.97" width="27" height="66" fill="url(#grid)" stroke="#161616" stroke-width="1.95"/></g>
<g transform="translate(1255.63 1438.47)"><rect x="-0.97" y="-0.97" width="27" height="66" fill="url(#dot)" stroke="#161616" stroke-width="1.95"/></g>
<text x="1267.56" y="1312.5" text-anchor="middle" class="t st">**</text>
<path d="M1268.16 1437.5v5.5" stroke="#161616" stroke-width="2.2"/>
<text transform="translate(1274.36 1625.5) rotate(-90)" text-anchor="end" class="t">Entropy</text>
<path d="M1307.37 1383.5V1325.5M1299.87 1325.5H1314.87" stroke="#161616" stroke-width="2.15" fill="none"/>
<path d="M1307.37 1489V1515M1299.87 1515H1314.87" stroke="#161616" stroke-width="2.15" fill="none"/>
<g transform="translate(1294.85 1384.47)"><rect x="-0.97" y="-0.97" width="27" height="54" fill="url(#dot)" stroke="#161616" stroke-width="1.95"/></g>
<g transform="translate(1294.85 1438.47)"><rect x="-0.97" y="-0.97" width="27" height="51.5" fill="url(#grid)" stroke="#161616" stroke-width="1.95"/></g>
<text x="1306.77" y="1312.5" text-anchor="middle" class="t st">*</text>
<path d="M1307.37 1437.5v5.5" stroke="#161616" stroke-width="2.2"/>
<text transform="translate(1313.57 1625.5) rotate(-90)" text-anchor="end" class="t">Uniformity</text>
<path d="M1348.5 1408V1345M1341 1345H1356" stroke="#161616" stroke-width="2.15" fill="none"/>
<path d="M1348.5 1464.5V1512.5M1341 1512.5H1356" stroke="#161616" stroke-width="2.15" fill="none"/>
<g transform="translate(1335.97 1408.97)"><rect x="-0.97" y="-0.97" width="27" height="29.5" fill="url(#dot)" stroke="#161616" stroke-width="1.95"/></g>
<g transform="translate(1335.97 1438.47)"><rect x="-0.97" y="-0.97" width="27" height="27" fill="url(#grid)" stroke="#161616" stroke-width="1.95"/></g>
<path d="M1348.5 1437.5v5.5" stroke="#161616" stroke-width="2.2"/>
<text transform="translate(1354.7 1625.5) rotate(-90)" text-anchor="end" class="t">meanGL</text>
<path d="M1389.32 1405.5V1350M1381.82 1350H1396.82" stroke="#161616" stroke-width="2.15" fill="none"/>
<path d="M1389.32 1467V1503M1381.82 1503H1396.82" stroke="#161616" stroke-width="2.15" fill="none"/>
<g transform="translate(1376.79 1406.47)"><rect x="-0.97" y="-0.97" width="27" height="32" fill="url(#dot)" stroke="#161616" stroke-width="1.95"/></g>
<g transform="translate(1376.79 1438.47)"><rect x="-0.97" y="-0.97" width="27" height="29.5" fill="url(#grid)" stroke="#161616" stroke-width="1.95"/></g>
<path d="M1389.32 1437.5v5.5" stroke="#161616" stroke-width="2.2"/>
<text transform="translate(1395.52 1625.5) rotate(-90)" text-anchor="end" class="t">RMS</text>
<path d="M881.6 1169.4V1702.7" stroke="#000" stroke-width="2.4"/>
<path d="M881.6 1437.5H1409.9" stroke="#000" stroke-width="2.6"/>
<path d="M875.6 1170.6H881.6" stroke="#161616" stroke-width="2.6"/>
<text x="872.6" y="1173.5" text-anchor="end" class="t tk">0.2</text>
<path d="M875.6 1304.4H881.6" stroke="#161616" stroke-width="2.6"/>
<text x="872.6" y="1307.3" text-anchor="end" class="t tk">0.1</text>
<path d="M875.6 1437.5H881.6" stroke="#161616" stroke-width="2.6"/>
<text x="872.6" y="1440.4" text-anchor="end" class="t tk">0.0</text>
<path d="M875.6 1568.5H881.6" stroke="#161616" stroke-width="2.6"/>
<text x="872.6" y="1571.4" text-anchor="end" class="t tk">-0.1</text>
<path d="M875.6 1701.5H881.6" stroke="#161616" stroke-width="2.6"/>
<text x="872.6" y="1704.4" text-anchor="end" class="t tk">-0.2</text>
<g transform="translate(1317.5 1179.2)"><rect x="-1.3" y="-1.3" width="21.3" height="9.6" fill="url(#ldotF)" stroke="#161616" stroke-width="2.6"/></g>
<text x="1351.4" y="1186.3" class="t lg">Recur</text>
<g transform="translate(1317.5 1203.6)"><rect x="-1.3" y="-1.3" width="21.3" height="9.6" fill="url(#lgridF)" stroke="#161616" stroke-width="2.6"/></g>
<text x="1351.4" y="1212.3" class="t lg">nonRecur</text>
</g>
<text transform="translate(774.99 1202.5) scale(1.1231 1.4364)" class="h" font-size="40">F</text>
<text transform="translate(886.43 1217.49) scale(0.9617 1.0247)" class="h" font-size="40">T1C</text>
<g id="panelG" filter="url(#soft)">
<path d="M127.8 1996V1952M120.3 1952H135.3" stroke="#161616" stroke-width="2.15" fill="none"/>
<path d="M127.8 2054.5V2095M120.3 2095H135.3" stroke="#161616" stroke-width="2.15" fill="none"/>
<g transform="translate(115.27 1996.97)"><rect x="-0.97" y="-0.97" width="27" height="29.5" fill="url(#dot)" stroke="#161616" stroke-width="1.95"/></g>
<g transform="translate(115.27 2026.47)"><rect x="-0.97" y="-0.97" width="27" height="29" fill="url(#grid)" stroke="#161616" stroke-width="1.95"/></g>
<path d="M127.8 2025.5v5.5" stroke="#161616" stroke-width="2.2"/>
<text transform="translate(134 2213.5) rotate(-90)" text-anchor="end" class="t">Mean</text>
<path d="M168.8 1998V1956.5M161.3 1956.5H176.3" stroke="#161616" stroke-width="2.15" fill="none"/>
<path d="M168.8 2052V2100M161.3 2100H176.3" stroke="#161616" stroke-width="2.15" fill="none"/>
<g transform="translate(156.28 1998.97)"><rect x="-0.97" y="-0.97" width="27" height="27.5" fill="url(#grid)" stroke="#161616" stroke-width="1.95"/></g>
<g transform="translate(156.28 2026.47)"><rect x="-0.97" y="-0.97" width="27" height="26.5" fill="url(#dot)" stroke="#161616" stroke-width="1.95"/></g>
<path d="M168.8 2025.5v5.5" stroke="#161616" stroke-width="2.2"/>
<text transform="translate(175 2213.5) rotate(-90)" text-anchor="end" class="t">Std</text>
<path d="M208.7 1979V1927.5M201.2 1927.5H216.2" stroke="#161616" stroke-width="2.15" fill="none"/>
<path d="M208.7 2071.5V2114.5M201.2 2114.5H216.2" stroke="#161616" stroke-width="2.15" fill="none"/>
<g transform="translate(196.17 1979.97)"><rect x="-0.97" y="-0.97" width="27" height="46.5" fill="url(#dot)" stroke="#161616" stroke-width="1.95"/></g>
<g transform="translate(196.17 2026.47)"><rect x="-0.97" y="-0.97" width="27" height="46" fill="url(#grid)" stroke="#161616" stroke-width="1.95"/></g>
<path d="M208.7 2025.5v5.5" stroke="#161616" stroke-width="2.2"/>
<text transform="translate(214.9 2213.5) rotate(-90)" text-anchor="end" class="t">Median</text>
<path d="M249.7 1937.5V1874.5M242.2 1874.5H257.2" stroke="#161616" stroke-width="2.15" fill="none"/>
<path d="M249.7 2112.5V2141M242.2 2141H257.2" stroke="#161616" stroke-width="2.15" fill="none"/>
<g transform="translate(237.17 1938.47)"><rect x="-0.97" y="-0.97" width="27" height="88" fill="url(#dot)" stroke="#161616" stroke-width="1.95"/></g>
<g transform="translate(237.17 2026.47)"><rect x="-0.97" y="-0.97" width="27" height="87" fill="url(#grid)" stroke="#161616" stroke-width="1.95"/></g>
<text x="249.1" y="1852" text-anchor="middle" class="t st">*</text>
<path d="M249.7 2025.5v5.5" stroke="#161616" stroke-width="2.2"/>
<text transform="translate(255.9 2213.5) rotate(-90)" text-anchor="end" class="t">Min</text>
<path d="M290.6 1998V1956.5M283.1 1956.5H298.1" stroke="#161616" stroke-width="2.15" fill="none"/>
<path d="M290.6 2052V2078M283.1 2078H298.1" stroke="#161616" stroke-width="2.15" fill="none"/>
<g transform="translate(278.08 1998.97)"><rect x="-0.98" y="-0.97" width="27" height="27.5" fill="url(#grid)" stroke="#161616" stroke-width="1.95"/></g>
<g transform="translate(278.08 2026.47)"><rect x="-0.98" y="-0.97" width="27" height="26.5" fill="url(#dot)" stroke="#161616" stroke-width="1.95"/></g>
<path d="M290.6 2025.5v5.5" stroke="#161616" stroke-width="2.2"/>
<text transform="translate(296.8 2213.5) rotate(-90)" text-anchor="end" class="t">Max</text>
<path d="M330.6 1971.5V1915.5M323.1 1915.5H338.1" stroke="#161616" stroke-width="2.15" fill="none"/>
<path d="M330.6 2079V2141M323.1 2141H338.1" stroke="#161616" stroke-width="2.15" fill="none"/>
<g transform="translate(318.08 1972.47)"><rect x="-0.98" y="-0.97" width="27" height="54" fill="url(#dot)" stroke="#161616" stroke-width="1.95"/></g>
<g transform="translate(318.08 2026.47)"><rect x="-0.98" y="-0.97" width="27" height="53.5" fill="url(#grid)" stroke="#161616" stroke-width="1.95"/></g>
<path d="M330.6 2025.5v5.5" stroke="#161616" stroke-width="2.2"/>
<text transform="translate(336.8 2213.5) rotate(-90)" text-anchor="end" class="t">Variance</text>
<path d="M371.5 1979V1920.5M364 1920.5H379" stroke="#161616" stroke-width="2.15" fill="none"/>
<path d="M371.5 2071.5V2122M364 2122H379" stroke="#161616" stroke-width="2.15" fill="none"/>
<g transform="translate(358.98 1979.97)"><rect x="-0.98" y="-0.97" width="27" height="46.5" fill="url(#grid)" stroke="#161616" stroke-width="1.95"/></g>
<g transform="translate(358.98 2026.47)"><rect x="-0.98" y="-0.97" width="27" height="46" fill="url(#dot)" stroke="#161616" stroke-width="1.95"/></g>
<path d="M371.5 2025.5v5.5" stroke="#161616" stroke-width="2.2"/>
<text transform="translate(377.7 2213.5) rotate(-90)" text-anchor="end" class="t">Skewness</text>
<path d="M410.4 1981V1925M402.9 1925H417.9" stroke="#161616" stroke-width="2.15" fill="none"/>
<path d="M410.4 2069V2117M402.9 2117H417.9" stroke="#161616" stroke-width="2.15" fill="none"/>
<g transform="translate(397.88 1981.97)"><rect x="-0.98" y="-0.97" width="27" height="44.5" fill="url(#grid)" stroke="#161616" stroke-width="1.95"/></g>
<g transform="translate(397.88 2026.47)"><rect x="-0.98" y="-0.97" width="27" height="43.5" fill="url(#dot)" stroke="#161616" stroke-width="1.95"/></g>
<path d="M410.4 2025.5v5.5" stroke="#161616" stroke-width="2.2"/>
<text transform="translate(416.6 2213.5) rotate(-90)" text-anchor="end" class="t">Kurtosis</text>
<path d="M451.2 1964V1908M443.7 1908H458.7" stroke="#161616" stroke-width="2.15" fill="none"/>
<path d="M451.2 2086V2146M443.7 2146H458.7" stroke="#161616" stroke-width="2.15" fill="none"/>
<g transform="translate(438.68 1964.97)"><rect x="-0.98" y="-0.97" width="27" height="61.5" fill="url(#dot)" stroke="#161616" stroke-width="1.95"/></g>
<g transform="translate(438.68 2026.47)"><rect x="-0.98" y="-0.97" width="27" height="60.5" fill="url(#grid)" stroke="#161616" stroke-width="1.95"/></g>
<path d="M451.2 2025.5v5.5" stroke="#161616" stroke-width="2.2"/>
<text transform="translate(457.4 2213.5) rotate(-90)" text-anchor="end" class="t">Energy</text>
<path d="M492.1 1957V1901M484.6 1901H499.6" stroke="#161616" stroke-width="2.15" fill="none"/>
<path d="M492.1 2093V2143.5M484.6 2143.5H499.6" stroke="#161616" stroke-width="2.15" fill="none"/>
<g transform="translate(479.58 1957.97)"><rect x="-0.98" y="-0.97" width="27" height="68.5" fill="url(#grid)" stroke="#161616" stroke-width="1.95"/></g>
<g transform="translate(479.58 2026.47)"><rect x="-0.98" y="-0.97" width="27" height="67.5" fill="url(#dot)" stroke="#161616" stroke-width="1.95"/></g>
<text x="491.5" y="1883.5" text-anchor="middle" class="t st">*</text>
<path d="M492.1 2025.5v5.5" stroke="#161616" stroke-width="2.2"/>
<text transform="translate(498.3 2213.5) rotate(-90)" text-anchor="end" class="t">Entropy</text>
<path d="M531.2 1964V1908M523.7 1908H538.7" stroke="#161616" stroke-width="2.15" fill="none"/>
<path d="M531.2 2086V2146M523.7 2146H538.7" stroke="#161616" stroke-width="2.15" fill="none"/>
<g transform="translate(518.68 1964.97)"><rect x="-0.98" y="-0.97" width="27" height="61.5" fill="url(#dot)" stroke="#161616" stroke-width="1.95"/></g>
<g transform="translate(518.68 2026.47)"><rect x="-0.98" y="-0.97" width="27" height="60.5" fill="url(#grid)" stroke="#161616" stroke-width="1.95"/></g>
<path d="M531.2 2025.5v5.5" stroke="#161616" stroke-width="2.2"/>
<text transform="translate(537.4 2213.5) rotate(-90)" text-anchor="end" class="t">Uniformity</text>
<path d="M572.2 1981V1923M564.7 1923H579.7" stroke="#161616" stroke-width="2.15" fill="none"/>
<path d="M572.2 2069V2126.5M564.7 2126.5H579.7" stroke="#161616" stroke-width="2.15" fill="none"/>
<g transform="translate(559.68 1981.97)"><rect x="-0.98" y="-0.97" width="27" height="44.5" fill="url(#dot)" stroke="#161616" stroke-width="1.95"/></g>
<g transform="translate(559.68 2026.47)"><rect x="-0.98" y="-0.97" width="27" height="43.5" fill="url(#grid)" stroke="#161616" stroke-width="1.95"/></g>
<path d="M572.2 2025.5v5.5" stroke="#161616" stroke-width="2.2"/>
<text transform="translate(578.4 2213.5) rotate(-90)" text-anchor="end" class="t">meanGL</text>
<path d="M612.9 2000.5V1952M605.4 1952H620.4" stroke="#161616" stroke-width="2.15" fill="none"/>
<path d="M612.9 2049.5V2095M605.4 2095H620.4" stroke="#161616" stroke-width="2.15" fill="none"/>
<g transform="translate(600.38 2001.47)"><rect x="-0.98" y="-0.97" width="27" height="25" fill="url(#dot)" stroke="#161616" stroke-width="1.95"/></g>
<g transform="translate(600.38 2026.47)"><rect x="-0.98" y="-0.97" width="27" height="24" fill="url(#grid)" stroke="#161616" stroke-width="1.95"/></g>
<path d="M612.9 2025.5v5.5" stroke="#161616" stroke-width="2.2"/>
<text transform="translate(619.1 2213.5) rotate(-90)" text-anchor="end" class="t">RMS</text>
<path d="M107 1759.6V2290.5" stroke="#000" stroke-width="2.4"/>
<path d="M107 2025.5H635.3" stroke="#000" stroke-width="2.6"/>
<path d="M101 1760.8H107" stroke="#161616" stroke-width="2.6"/>
<text x="98" y="1763.7" text-anchor="end" class="t tk">0.2</text>
<path d="M101 1894H107" stroke="#161616" stroke-width="2.6"/>
<text x="98" y="1896.9" text-anchor="end" class="t tk">0.1</text>
<path d="M101 2025.5H107" stroke="#161616" stroke-width="2.6"/>
<text x="98" y="2028.4" text-anchor="end" class="t tk">0.0</text>
<path d="M101 2156.5H107" stroke="#161616" stroke-width="2.6"/>
<text x="98" y="2159.4" text-anchor="end" class="t tk">-0.1</text>
<path d="M101 2289.3H107" stroke="#161616" stroke-width="2.6"/>
<text x="98" y="2292.2" text-anchor="end" class="t tk">-0.2</text>
<g transform="translate(540.6 1767.15)"><rect x="-1.3" y="-1.3" width="24.1" height="12.1" fill="url(#ldot)" stroke="#161616" stroke-width="2.6"/></g>
<text x="574.5" y="1776.65" class="t lg">Recur</text>
<g transform="translate(540.6 1791.55)"><rect x="-1.3" y="-1.3" width="24.1" height="12.1" fill="url(#lgrid)" stroke="#161616" stroke-width="2.6"/></g>
<text x="574.5" y="1800.85" class="t lg">nonRecur</text>
</g>
<text transform="translate(1.02 1790.61) scale(1.3410 1.4664)" class="h" font-size="40">G</text>
<text transform="translate(118.7 1807.5) scale(0.9399 1.0509)" class="h" font-size="40">FLAIR</text>
</svg></body></html>
